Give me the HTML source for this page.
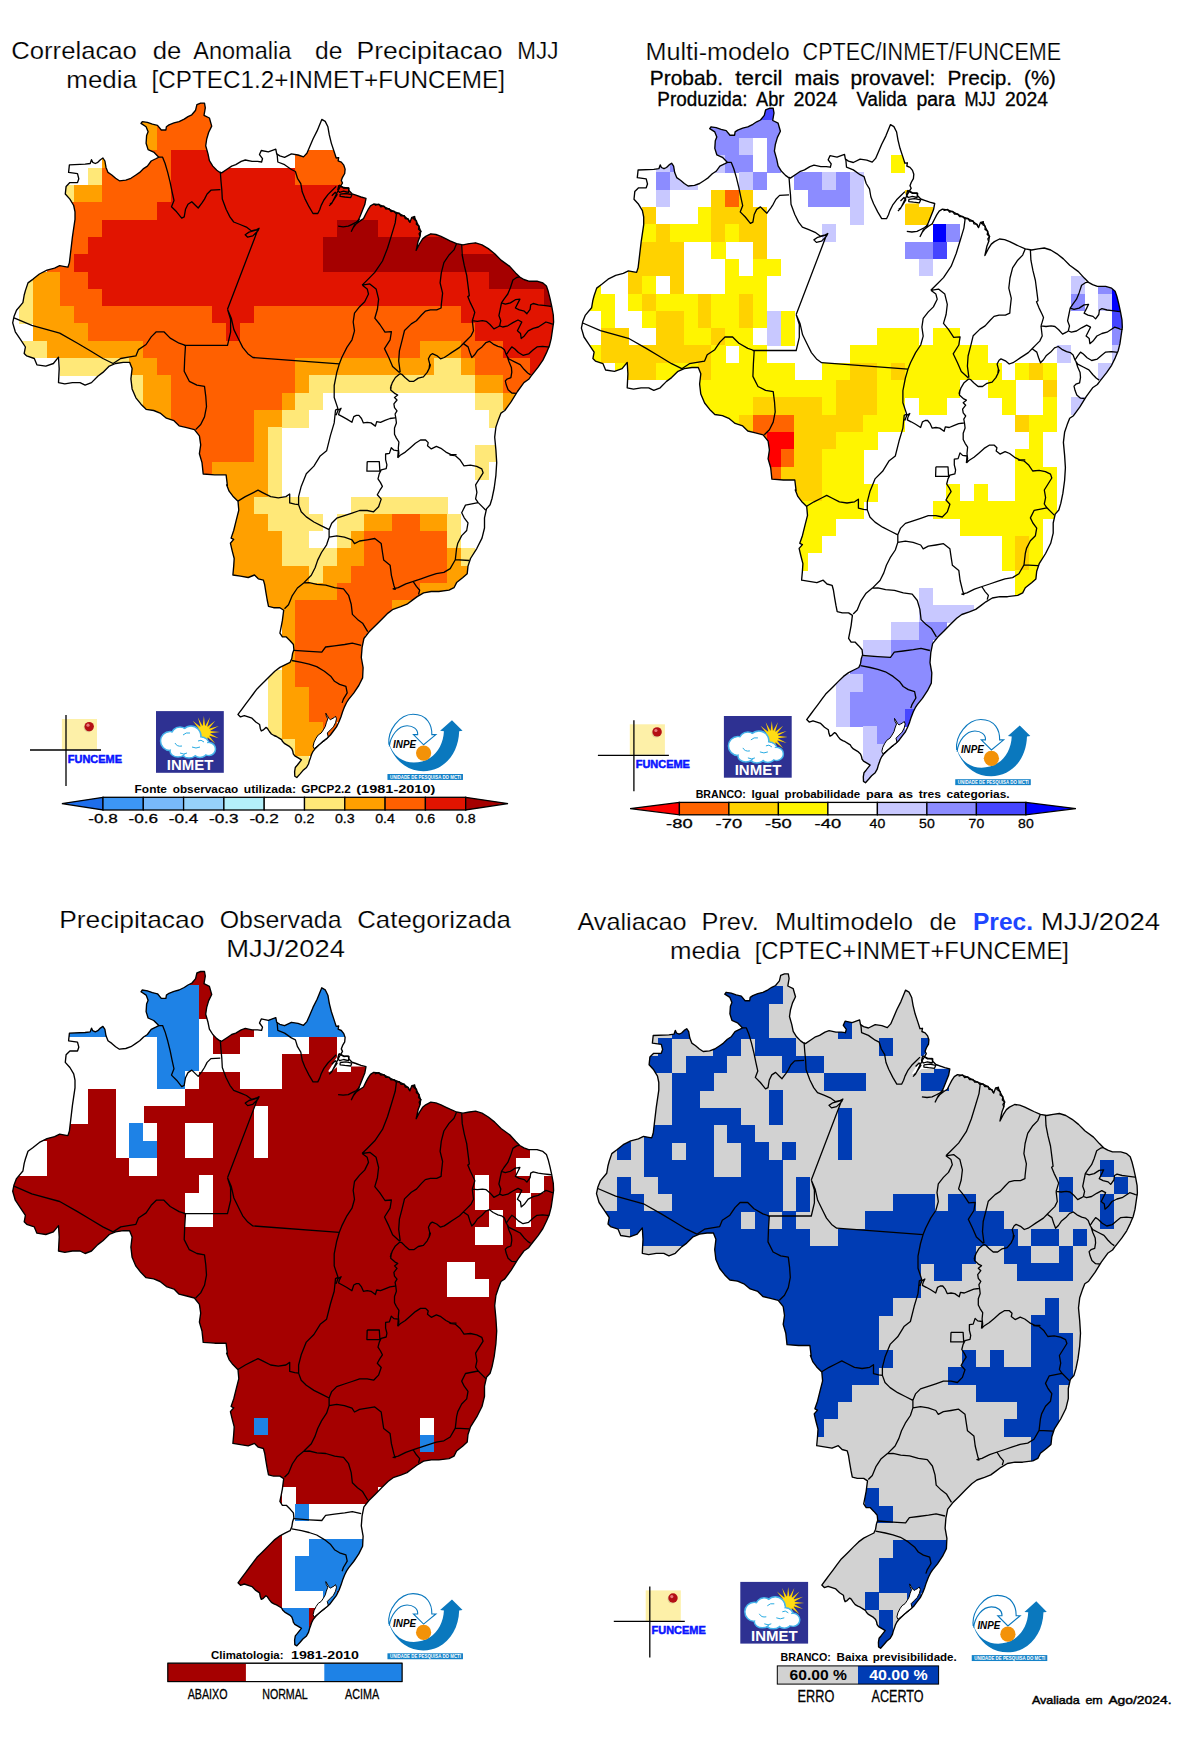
<!DOCTYPE html>
<html lang="pt"><head><meta charset="utf-8"><title>Previsao MJJ 2024</title>
<style>html,body{margin:0;padding:0;background:#fff}svg{display:block}text{font-family:"Liberation Sans",sans-serif;fill:#000}.b{font-weight:bold}.m{stroke:#000;stroke-width:.3px}.t{stroke:#fff;stroke-width:.2px}.u{stroke:#000;stroke-width:.3px}.m2{stroke:#000;stroke-width:.45px}</style></head><body>
<svg width="1181" height="1748" viewBox="0 0 1181 1748">
<rect width="1181" height="1748" fill="#fff"/>
<defs>
<path id="bo" d="M196.9 104.6L200.7 103.1L204.5 103.1L205.3 107.8L204 115.3L209.4 118L211.7 126.1L208.7 132.2L206.7 139L205.7 145.8L208 153.9L209.4 160.7L212.8 166.1L216.8 170.2L219.6 172.2L221.6 172.9L227.7 168.8L231.7 166.1L235.8 164.7L241.2 161.4L245.3 160L252.1 161.4L257.5 161.4L261.6 162L262.5 158.7L259.5 154.6L261.3 150.5L268.3 151.9L275.8 149.2L276.7 153.9L279.8 155.9L284.6 157.3L291.4 153.9L298.1 155L303.5 156.9L306.9 153.2L309.6 147.1L313 139L317.1 130.9L321.8 119.4L325.2 121.4L327.9 126.8L329.3 134.9L331.3 143.1L334 151.2L336.2 158L338.7 157.6L338.1 160.8L341.3 162.1L343.8 165.2L345.1 169.1L344.7 173.5L342.5 177.3L341.3 180.5L342.5 183L340.6 186.2L343.8 188.1L348.3 187.8L348.9 190.6L352.1 193.8L355.9 195.1L361 197L366 198.3L364.8 204.6L362.2 211L359.7 217.3L357.2 222.4L353.3 227.5L351.4 231.3L354.6 224.9L359.7 221.1L363.5 218.6L366 213.5L368 209.7L370.5 205.9L373.7 204L378.7 204.6L383.8 206.5L388.9 209.1L394 211.6L399.1 213.5L404.1 216L408 219.2L409.9 222.4L411.8 217.3L414.3 216.7L416.2 221.1L418.8 226.2L420.7 231.3L420 236.4L418.1 241.4L416.2 250.3L419.4 244L422.6 238.9L425.7 236.4L430.8 233.8L435.9 234.5L441 236.4L446.1 238.9L450 240.8L456.6 243.6L462.9 244.8L469.3 243.6L475.6 242.8L482 244.8L488.3 248.6L494.7 253.7L501 260.1L509.7 266.4L515.6 272.9L519.8 277.1L523.9 279.5L528.7 281.2L537 281.2L542.9 283L546.4 286L548.2 291.3L550 298.4L551.8 306.7L553.3 315L553.6 322.1L552.4 330.4L551.2 338.7L549.4 345.8L546.4 352.9L542.9 360.1L538.1 367.2L533.4 373.1L531 376.1L528.7 379.3L523.9 382.6L517.5 391.5L511.2 401.7L504.8 410.5L501 413.1L498.5 419.4L495.9 427.1L494.7 437.2L495.9 449.9L496.7 462.6L495.9 475.3L494.2 488L492.1 498.2L490.1 504.8L486.5 508.9L484.5 517.8L484.5 528L482 538.1L476.9 548.3L470.5 558.5L468 566.1L467.2 573.7L462.9 577.5L456.6 582.6L454 587.7L449 590.2L438.8 591.5L431.2 591.5L423.6 592.8L417.2 596.6L412.1 600.4L407 604.2L400.7 606.7L393.1 609.3L388 613.1L381.6 619.4L375.3 625.8L368.9 632.1L363.9 638.5L362.1 647.4L361.3 657.5L363.1 667.7L362.6 677.9L358.8 685.5L353.7 693.1L348.6 699.4L346.6 702.5L344.6 706.6L342.6 711.7L341 716.7L339 721.8L336.5 726.9L333.4 731L330.4 735L327.3 738.1L323.3 741.1L319.2 744.7L315.6 748.2L313.1 751.3L311.6 754.3L310.6 757.4L309.5 760.4L308.5 764L306.5 767.5L302.9 770.6L299.9 774.1L296.8 777.5L294.8 776.2L294.6 771.6L295.3 767.5L297.4 765L299.4 762.5L301.4 759.9L299.9 758.9L297.4 757.4L294.8 755.9L293.3 753.8L292.8 751.3L291.8 748.7L289.7 746.7L287.2 745.2L284.7 743.7L282.6 741.6L281.6 739.6L279.1 738.1L276.5 736.5L274 735.5L271.4 734L269.4 731.5L267.4 728.4L265.9 727.4L263.3 729.9L261.3 731L260.3 728.4L259.6 724.5L255.8 722L252 718.2L248.2 716.9L244.3 715.6L240.5 716.9L238 714.4L241.8 709.3L245.6 704.2L249.4 699.1L253.2 694L257 688.9L260.9 685.1L264.7 681.3L269.7 676.2L274.8 671.2L279.9 667.4L285 664.8L290.1 662.3L291.8 658.5L292.6 653.4L293.9 649.6L293.4 644.5L290.1 640.7L286.3 636.9L282.4 636.9L279.9 633.1L281.2 626.7L282.4 620.4L283.7 610.2L279.9 607.7L273.6 607.7L268.5 606.4L267.2 600L265.9 592.4L264.7 584.8L263.4 580.1L258.3 578.8L254.5 575L248.2 577.5L240.5 576.2L232.9 575L233.7 566.1L234.2 558.5L232.2 550.8L230.4 543.2L233.7 539.4L231.1 538.1L233.7 530.5L236.2 520.4L238.8 510.2L238 501.3L232.9 496.2L229.1 491.2L226.6 484.8L227.4 485.5L226.1 474.8L214.7 474.8L203.2 474L202 462.6L199.4 453.7L200.7 444.8L199.4 435.9L194.4 429.6L186.7 427.6L179.1 425.8L174 420.7L166.4 418.2L160.1 413.1L153.7 410.5L146.1 409.3L141 404.2L135.9 397.8L132.1 388.9L130.9 378.8L132.1 368.6L129.6 362.3L123.2 362.3L115.6 363.5L109.3 366.1L102.9 372.4L97.8 376.2L91.5 382.6L85.1 385.1L80 382.6L72.4 382.6L64.8 383.9L58.5 382.6L59.2 368.6L58.5 357.2L53.4 363.5L45.8 366.1L36.9 364.8L34.3 358.5L26.7 355.9L24.2 353.4L25.4 347L20.4 339.4L15.3 331.8L12.7 322.9L14 316.6L16.5 310.2L22.9 302.6L24.2 295L25.4 290.6L28 282.9L33.1 279.1L39.4 274L47 270.2L54.6 268.2L59.7 265.7L63.5 266.4L67.9 267.2L69.4 262.6L72.4 237.2L75 219.4L75 211.8L73.7 205.5L69.9 199.1L65.3 194L66.1 186.4L69.9 182.6L77.5 182.6L78.8 178.8L77.5 173.7L68.6 172.4L69.4 164.8L85.1 164.1L90.2 163.5L91.5 159.7L92.7 162.3L95.3 163.5L97.8 162.3L100.4 159.7L102.9 158L104.9 161L106 167.4L108 172.4L111.8 175L115.6 178.3L119.4 180.8L125.8 180.1L130.9 178.3L135.9 175L139.7 172.4L143.6 168.6L147.4 166.1L151.2 161L156.3 158.5L158.8 157.2L153.7 152.1L148.1 149.6L146.1 143.2L146.6 135.6L148.1 131.8L146.1 126.7L141 123.4L142.3 121.6L147.4 122.4L152.4 124.2L157.5 125.4L161.3 130L165.9 130L166.4 126.7L169 124.9L174 122.9L179.1 121.6L184.2 119.1L188 116.6L191.8 114.8L195.6 110.2Z"/>
<path id="bs" d="M158.8 157.2L162.6 157.2L165.1 163.5L167.7 172.4L170.2 182.6L172 191.5L174 200.4L171.5 206.7L176.6 211.8L181.7 218.2L184.2 216.9L185.5 209.3L188 204.2L191.8 201.7L195.6 205.5L198.2 208L202 202.9L204.5 199.1L207.1 194L210.9 190.2L220.3 189.7 M220.3 171.7L221 181.3L221.8 189.7L222.3 199.1L226.1 209.3L229.9 216.9L233.7 222L240.1 224.5L246.4 227.1L251.5 230.9L256.6 229.6L259.1 228.3L257.9 230.9L252.8 235.9L247.7 237.2L245.2 234.7L249 232.1L257.9 229.6L227.5 309.3 M227.5 309.3L230.6 319.4L230.6 332.1L227.5 345.3L184.3 345.3L185.5 345.3L179.1 343.2L170.2 338.1L163.9 331.8L156.3 331.8L151.2 336.9L146.1 344.5L138.5 349.6L135.9 355.9L128.3 357.2L120.7 358.5L113.1 363.5 M113.1 363.5L102.9 358.5L90.2 350.8L77.5 343.2L59.7 333.1L31.8 325.4L14 317.8 M227.5 309.3L231.3 318.2L233.9 329.6L238.9 339.8L242.7 347.4L247.8 353.7L252.9 357.5L339.3 363.9 M185.5 345.3L184.7 358.5L184.2 371.2L189.3 381.3L196.9 385.1L204.5 386.4L205.8 396.6L206.5 406.7L204.5 416.9L200.7 424.5L195.6 429.6 M277.1 153.9L277.8 162L284.6 164.7L291.4 169.5L295.4 171.5L297.5 178.3L300.8 183.7L302.2 191.8L304.9 198.6L309 206.7L313 213.5L317.8 213.5L319.8 209.5L321.2 205.4L323.9 200L327.9 194.6L332 190.5L336.2 186.4 M362.1 285.1L367.2 288.9L368.5 294L364.7 301.7L359.6 306.7L354.5 313.1L353.2 322L354.5 330.9L352 339.8L346.9 347.4L341.8 357.5L339.3 363.9L336.7 372.8L334.2 385.5L334.2 397.5L338 408.9L335.5 410.2L334.2 422.9L330.4 435.6L326.6 450.8L320.2 455.9L313.9 466.1L306.3 473.7L301.2 486.4L298.6 496.6L298.6 504.7 M396.4 214L395.2 222.9L391.4 235.6L387.5 248.3L382.5 261L374.8 272.4L367.2 280.1L362.1 285.1 M362.1 285.1L369.8 283.9L376.1 288.9L378.6 299.1L377.4 309.3L374.8 318.2L379.9 324.5L385 332.1L391.4 331.6L390.1 339.8L384.5 348.6L388.8 357.5L392.6 366.4L399.7 372.8 M456.6 243.6L454 249.9L449 255L443.9 262.6L441.3 272.8L440.1 282.9L442.6 293.1L441.3 304.8L441.1 308L436.7 309.9L430.4 309.9L425.3 311.2L421.5 315L416.4 320.7L411.3 323.9L404.5 330.5L402 340.7L399.4 350.8L398.7 361L400.2 372.4 M461.7 244.8L462.2 255L464.2 265.2L466.7 275.3L468 285.5L469.3 295.6L467.8 296.6L470.4 302.9L473.5 309.3L474.8 312.4L473.5 316.9L472.3 320.7 M472.3 320.7L472.9 325.8L473.5 330.8L471 335.9L467.2 339.7L463.4 343.5L459.6 347.4L455.8 349.9L451.9 352.4L448.1 355L444.3 357.5L440.5 358.8L436.7 355.6L432.3 353.7L430.4 355L428.4 358.8L429.7 363.9L429.1 368.9L430.4 364.8L429.7 367.3L427.2 372.4L423.4 376.9L418.3 378.1L413.8 381.3L409.4 381.3L405 377.5L401.8 374.3L399.9 373.7 M399.9 373.7L395.4 377.5L392.3 382.6L390.4 388.3L391.3 384.8L390.7 389.9L395.1 393.7L397.7 395L394.5 397.5L397 400L393.9 403.9L394.5 407.7L397 410.8L395.1 414L395.8 417.8L396.4 422.9L394.5 428L394.5 434.3L396.4 438.1L398.9 442L398.3 448.3L398.9 453.4L397.7 457.8 M336.1 415.3L338 410.2L341.1 408.3L339.2 412.1L338.6 414.6L342.4 416.6L346.9 419.1L351.9 422.3L353.8 416.6L356.4 415.3L358.9 415.3L361.5 418.5L363.4 422.9L367.2 422.3L371 422.9L375.4 426.1L376.7 421.6L380.5 422.3L385 420.4L390 418.5L395.1 417.8 M463.4 343.6L468.1 346.9L469.9 352.5L471.8 357.6L474.6 354.8L477.4 350.6L482 346.9L485.8 342.7L489.5 341.3L493.2 344.1L497.9 346.4L501.6 347.4L504.4 349.7L506.3 354.8 M506.3 354.8L509 350.6L511.8 346.9L514.6 348.8L518.4 352.5L523 355.3L528.6 353.9L533.3 349.7L537 346.9L542.6 346.4L547.2 346.9L549.3 347.1 M506.3 354.8L509 359L514.6 361.8L520.2 364.6L524 369.3L527.7 373L530.5 374.9 M507.2 356.2L509 361.8L511.4 367.4L511.8 372.1L510.9 377.6L507.2 379L505.3 380.9L506.3 385.1L508.1 389.8L511.8 393L516 393.3 M472.3 320.7L477.3 321.3L482.4 320.7L486.2 321.3L490 324.5L493.9 328.9L497.7 327L499.6 325.8 M499.6 325.8L500.8 320.7L498.9 315.6L500.2 309.3L501.5 302.9L504 299.1L507.8 294L510.4 287.7L512.9 280L516.7 277.5L519.3 276.9 M501.5 302.9L505.3 304.2L510.4 302.9L515.4 299.7L519.9 299.1L518 302.9L515.4 308L519.3 309.9L524.3 311.2L526.9 313.7L530.1 309.3L530.7 304.8L533.2 303.5L538.3 304.8L543.4 305.4L549.1 306.1L551.3 306.5 M499.6 325.8L502.7 327L507.8 325.8L512.9 322.6L518 320L521.8 322L519.3 327L517.4 330.8L520.5 333.4L521.2 338.5L524.3 335.9L528.2 330.8L533.2 328.3L538.3 327L542.1 324.5L545.9 322L549.7 323.2L551.6 323.9L553.8 324.2 M237.9 501.1L245.3 496.6L252.9 492.8L258 490.2L263.1 492.8L270.7 496.6L278.3 497.8L285.9 496.6L289.7 494L289.7 502.9L294.8 504.2L298.6 504.7 M298.6 504.7L301.2 511.8L306.3 516.9L313.9 522L321.5 525.8L329.1 529.6 M329.1 529.6L331.7 523.2L336.7 518.2L344.4 515.6L352 513.1L359.6 510.5L367.2 510.5L373.6 511.8L378.6 506.7L381.2 499.1L377.3 494.8L379.9 490.2L382.4 486.4L380.5 482.6L378 478.8L379.3 473.7L381.2 469.9L386.2 468.6L386.9 464.8L385.6 459.7L385.6 454L389.4 453.4L391.3 447.7L393.9 450.2L398.3 450.8L397.7 457.8 M367.2 461.6L379.3 461.6L379.9 471.2L366.9 471.2L367.2 461.6 M397.7 457.8L400.2 455.3L405.3 452.1L410.4 447.7L415.4 443.2L420.5 440L425.6 440L428.2 442.6L427.5 445.8L431.3 448.9L436.4 446.4L440.9 448.3L445.9 452.1L451 454.7L456.1 454.7L450 455L455.1 455.6L460.2 460.1L464 465.8L470.4 465.1L476.7 466.4L481.8 468.9L483.1 472.8L475.6 484.8L476.9 492.4L475.6 498.8L478.2 502.6L485.8 510.2 M478.2 502.6L465.5 505.1L461.7 512.7L464.2 517.8L468 522.9L466.7 530.5L461.7 535.6L457.8 543.2L456.6 548.3L455.3 559.7L469.3 560.5 M455.3 559.7L450.2 568.6L443.9 572.4L436.3 573.7L428.6 576.2L421 578.8L413.4 581.3L405.8 583.9L398.2 587.7L393.1 588.9L395.2 589.3L393.9 585.5L391.4 575.3L390.1 565.2L383.7 560.1L382.5 552.5L381.2 543.6L374.8 538.5L367.2 539.8L359.6 541L354.5 543.6L352 539.8L344.4 537.2L336.7 535.9L329.1 537.2L329.1 529.6 M413.4 581.8L416.4 586.4L419.7 590.2L418.5 594.5 M329.1 537.2L326.6 544.8L321.5 552.5L317.7 560.1L315.1 567.7L311.3 575.3L303.7 582.9L297.4 588L292.3 595.6L288.5 604.8L284.5 608.8 M303.7 582.9L309.2 582.6L316.9 584.4L325.8 585.1L334.6 587.7L343.5 588.9L348.6 595.3L351.2 604.2L352.4 614.4L357.5 619.4L362.6 623.2L367.7 631.6 M293.9 650.3L309.1 651.4L321.8 652.1L325.6 647L334.5 645.8L344.7 644.5L352.3 643.2L361.2 645.3 M291.8 660.5L301.5 662.3L309.1 664.1L316.7 666.6L324.4 671.2L330.7 676.2L334.5 681.3L339.6 684.4L345.9 686.4L347.2 692.8L343.4 699.1L342.1 702.9 M338.1 226.2L343.2 226.8L348.3 226.2L352.1 224.3L355.9 222.4L359.7 219.2 M329.2 205.9L331.8 203.3L334.3 198.3L336.8 193.2L339.4 188.1L340.6 186.2 M338.9 185.2L343.6 187.5L349 188.1L348.4 192.3L343.6 191.1L339.5 192.3L337.7 189.9L338.9 185.2 M340.1 194.1L346 193.5L351.9 194.7L350.7 197.6L344.8 197L340.1 196.4L340.1 194.1 M331.8 195.8L335.3 192.3L337.1 194.7L334.1 199.4L331.8 202.9L330 204.1 M374.8 205.4L378.9 204.2L380.8 206.8L384 206.2L385.8 209L389.1 208.7L390.9 211.5L394.1 211.2L396.1 213.8L399.2 213.2L401 215.9L404.4 215.7L405.2 218.6L408.3 219L409.5 221.8 M412.5 218.8L414.7 216.5L414.1 219.4L416.6 221L416.3 224.2L419.1 226.1L418.5 229.2L421 231.3L419.1 233.7L420 236.4"/>
<path id="lg" d="M325.8 713.2L326.3 716.2L327.8 718.8L326.3 722.8L325.3 726.4L323.3 729.9L321.2 733L318.2 735L316.1 738.1L314.1 742.1L313.1 746.2L314.1 748.7L317.2 746.2L321.2 743.2L325.3 740.1L328.3 737.1L327.3 733L330.4 729.9L333.4 726.9L335.5 722.8L336.5 718.8L335.5 716.2L333.9 717.8L331.9 718.8L330.4 719.8L328.9 718.3L327.3 715.7Z"/>
<path id="wt" d="M341.8 182.2L348.4 187.5L350.1 192.3L353.1 194.9L365.5 198L337.7 198.2L334.1 201.2L330.6 204.1L328.2 202.9L331.8 197L335.3 191.1L338.9 185.8Z"/>
<clipPath id="cb"><use href="#bo"/></clipPath>
</defs>
<g transform="translate(0 0)">
<use href="#bo" fill="#ffffff"/>
<g clip-path="url(#cb)" shape-rendering="crispEdges"><g transform="translate(0 0)">
<rect x="5.10" y="98.40" width="566.92" height="17.61" fill="#ff6000"/>
<rect x="115.66" y="115.71" width="41.76" height="17.61" fill="#ffa000"/>
<rect x="157.12" y="115.71" width="69.40" height="17.61" fill="#ff6000"/>
<rect x="115.66" y="133.02" width="41.76" height="17.61" fill="#ffa000"/>
<rect x="157.12" y="133.02" width="69.40" height="17.61" fill="#ff6000"/>
<rect x="101.84" y="150.33" width="14.12" height="17.61" fill="#ffa000"/>
<rect x="115.66" y="150.33" width="55.58" height="17.61" fill="#ff6000"/>
<rect x="170.94" y="150.33" width="55.58" height="17.61" fill="#e11400"/>
<rect x="295.32" y="150.33" width="55.58" height="17.61" fill="#ff6000"/>
<rect x="88.02" y="167.64" width="14.12" height="17.61" fill="#ffe878"/>
<rect x="101.84" y="167.64" width="69.40" height="17.61" fill="#ff6000"/>
<rect x="170.94" y="167.64" width="124.68" height="17.61" fill="#e11400"/>
<rect x="295.32" y="167.64" width="55.58" height="17.61" fill="#ff6000"/>
<rect x="60.38" y="184.95" width="14.12" height="17.61" fill="#ffe878"/>
<rect x="74.20" y="184.95" width="27.94" height="17.61" fill="#ffa000"/>
<rect x="101.84" y="184.95" width="69.40" height="17.61" fill="#ff6000"/>
<rect x="170.94" y="184.95" width="249.06" height="17.61" fill="#e11400"/>
<rect x="60.38" y="202.26" width="97.04" height="17.61" fill="#ff6000"/>
<rect x="157.12" y="202.26" width="262.88" height="17.61" fill="#e11400"/>
<rect x="60.38" y="219.57" width="41.76" height="17.61" fill="#ff6000"/>
<rect x="101.84" y="219.57" width="235.24" height="17.61" fill="#e11400"/>
<rect x="336.78" y="219.57" width="41.76" height="17.61" fill="#a50000"/>
<rect x="378.24" y="219.57" width="69.40" height="17.61" fill="#e11400"/>
<rect x="60.38" y="236.88" width="27.94" height="17.61" fill="#ff6000"/>
<rect x="88.02" y="236.88" width="235.24" height="17.61" fill="#e11400"/>
<rect x="322.96" y="236.88" width="138.50" height="17.61" fill="#a50000"/>
<rect x="461.16" y="236.88" width="41.76" height="17.61" fill="#e11400"/>
<rect x="46.56" y="254.19" width="27.94" height="17.61" fill="#ff6000"/>
<rect x="74.20" y="254.19" width="249.06" height="17.61" fill="#e11400"/>
<rect x="322.96" y="254.19" width="193.78" height="17.61" fill="#a50000"/>
<rect x="18.92" y="271.50" width="14.12" height="17.61" fill="#ffe878"/>
<rect x="32.74" y="271.50" width="27.94" height="17.61" fill="#ffa000"/>
<rect x="60.38" y="271.50" width="27.94" height="17.61" fill="#ff6000"/>
<rect x="88.02" y="271.50" width="401.08" height="17.61" fill="#e11400"/>
<rect x="488.80" y="271.50" width="69.40" height="17.61" fill="#a50000"/>
<rect x="18.92" y="288.81" width="14.12" height="17.61" fill="#ffe878"/>
<rect x="32.74" y="288.81" width="27.94" height="17.61" fill="#ffa000"/>
<rect x="60.38" y="288.81" width="41.76" height="17.61" fill="#ff6000"/>
<rect x="101.84" y="288.81" width="442.54" height="17.61" fill="#e11400"/>
<rect x="544.08" y="288.81" width="14.12" height="17.61" fill="#a50000"/>
<rect x="18.92" y="306.12" width="14.12" height="17.61" fill="#ffe878"/>
<rect x="32.74" y="306.12" width="41.76" height="17.61" fill="#ffa000"/>
<rect x="74.20" y="306.12" width="138.50" height="17.61" fill="#ff6000"/>
<rect x="212.40" y="306.12" width="41.76" height="17.61" fill="#e11400"/>
<rect x="253.86" y="306.12" width="207.60" height="17.61" fill="#ff6000"/>
<rect x="461.16" y="306.12" width="97.04" height="17.61" fill="#e11400"/>
<rect x="32.74" y="323.43" width="55.58" height="17.61" fill="#ffa000"/>
<rect x="88.02" y="323.43" width="138.50" height="17.61" fill="#ff6000"/>
<rect x="226.22" y="323.43" width="14.12" height="17.61" fill="#e11400"/>
<rect x="240.04" y="323.43" width="235.24" height="17.61" fill="#ff6000"/>
<rect x="474.98" y="323.43" width="83.22" height="17.61" fill="#e11400"/>
<rect x="18.92" y="340.74" width="27.94" height="17.61" fill="#ffe878"/>
<rect x="46.56" y="340.74" width="97.04" height="17.61" fill="#ffa000"/>
<rect x="143.30" y="340.74" width="276.70" height="17.61" fill="#ff6000"/>
<rect x="419.70" y="340.74" width="41.76" height="17.61" fill="#ffa000"/>
<rect x="461.16" y="340.74" width="41.76" height="17.61" fill="#ff6000"/>
<rect x="502.62" y="340.74" width="55.58" height="17.61" fill="#e11400"/>
<rect x="60.38" y="358.05" width="69.40" height="17.61" fill="#ffe878"/>
<rect x="129.48" y="358.05" width="27.94" height="17.61" fill="#ffa000"/>
<rect x="157.12" y="358.05" width="138.50" height="17.61" fill="#ff6000"/>
<rect x="295.32" y="358.05" width="138.50" height="17.61" fill="#ffa000"/>
<rect x="433.52" y="358.05" width="27.94" height="17.61" fill="#ffe878"/>
<rect x="461.16" y="358.05" width="14.12" height="17.61" fill="#ffa000"/>
<rect x="474.98" y="358.05" width="55.58" height="17.61" fill="#ff6000"/>
<rect x="530.26" y="358.05" width="27.94" height="17.61" fill="#e11400"/>
<rect x="129.48" y="375.36" width="14.12" height="17.61" fill="#ffe878"/>
<rect x="143.30" y="375.36" width="27.94" height="17.61" fill="#ffa000"/>
<rect x="170.94" y="375.36" width="124.68" height="17.61" fill="#ff6000"/>
<rect x="295.32" y="375.36" width="14.12" height="17.61" fill="#ffa000"/>
<rect x="309.14" y="375.36" width="166.14" height="17.61" fill="#ffe878"/>
<rect x="474.98" y="375.36" width="27.94" height="17.61" fill="#ffa000"/>
<rect x="502.62" y="375.36" width="27.94" height="17.61" fill="#ff6000"/>
<rect x="129.48" y="392.67" width="14.12" height="17.61" fill="#ffe878"/>
<rect x="143.30" y="392.67" width="27.94" height="17.61" fill="#ffa000"/>
<rect x="170.94" y="392.67" width="110.86" height="17.61" fill="#ff6000"/>
<rect x="281.50" y="392.67" width="14.12" height="17.61" fill="#ffa000"/>
<rect x="295.32" y="392.67" width="27.94" height="17.61" fill="#ffe878"/>
<rect x="474.98" y="392.67" width="27.94" height="17.61" fill="#ffe878"/>
<rect x="502.62" y="392.67" width="14.12" height="17.61" fill="#ffa000"/>
<rect x="143.30" y="409.98" width="27.94" height="17.61" fill="#ffa000"/>
<rect x="170.94" y="409.98" width="83.22" height="17.61" fill="#ff6000"/>
<rect x="253.86" y="409.98" width="27.94" height="17.61" fill="#ffa000"/>
<rect x="281.50" y="409.98" width="27.94" height="17.61" fill="#ffe878"/>
<rect x="488.80" y="409.98" width="14.12" height="17.61" fill="#ffe878"/>
<rect x="170.94" y="427.29" width="83.22" height="17.61" fill="#ff6000"/>
<rect x="253.86" y="427.29" width="14.12" height="17.61" fill="#ffa000"/>
<rect x="267.68" y="427.29" width="14.12" height="17.61" fill="#ffe878"/>
<rect x="198.58" y="444.60" width="55.58" height="17.61" fill="#ff6000"/>
<rect x="253.86" y="444.60" width="14.12" height="17.61" fill="#ffa000"/>
<rect x="267.68" y="444.60" width="14.12" height="17.61" fill="#ffe878"/>
<rect x="474.98" y="444.60" width="27.94" height="17.61" fill="#ffe878"/>
<rect x="198.58" y="461.91" width="14.12" height="17.61" fill="#ff6000"/>
<rect x="212.40" y="461.91" width="55.58" height="17.61" fill="#ffa000"/>
<rect x="267.68" y="461.91" width="14.12" height="17.61" fill="#ffe878"/>
<rect x="474.98" y="461.91" width="14.12" height="17.61" fill="#ffe878"/>
<rect x="226.22" y="479.22" width="41.76" height="17.61" fill="#ffa000"/>
<rect x="267.68" y="479.22" width="14.12" height="17.61" fill="#ffe878"/>
<rect x="226.22" y="496.53" width="27.94" height="17.61" fill="#ffa000"/>
<rect x="253.86" y="496.53" width="55.58" height="17.61" fill="#ffe878"/>
<rect x="350.60" y="496.53" width="97.04" height="17.61" fill="#ffe878"/>
<rect x="226.22" y="513.84" width="41.76" height="17.61" fill="#ffa000"/>
<rect x="267.68" y="513.84" width="55.58" height="17.61" fill="#ffe878"/>
<rect x="336.78" y="513.84" width="27.94" height="17.61" fill="#ffe878"/>
<rect x="364.42" y="513.84" width="27.94" height="17.61" fill="#ffa000"/>
<rect x="392.06" y="513.84" width="27.94" height="17.61" fill="#ff6000"/>
<rect x="419.70" y="513.84" width="27.94" height="17.61" fill="#ffa000"/>
<rect x="447.34" y="513.84" width="14.12" height="17.61" fill="#ffe878"/>
<rect x="226.22" y="531.15" width="55.58" height="17.61" fill="#ffa000"/>
<rect x="281.50" y="531.15" width="27.94" height="17.61" fill="#ffe878"/>
<rect x="336.78" y="531.15" width="14.12" height="17.61" fill="#ffe878"/>
<rect x="350.60" y="531.15" width="14.12" height="17.61" fill="#ffa000"/>
<rect x="364.42" y="531.15" width="83.22" height="17.61" fill="#ff6000"/>
<rect x="447.34" y="531.15" width="14.12" height="17.61" fill="#ffe878"/>
<rect x="198.58" y="548.46" width="83.22" height="17.61" fill="#ffa000"/>
<rect x="281.50" y="548.46" width="55.58" height="17.61" fill="#ffe878"/>
<rect x="336.78" y="548.46" width="27.94" height="17.61" fill="#ffa000"/>
<rect x="364.42" y="548.46" width="83.22" height="17.61" fill="#ff6000"/>
<rect x="447.34" y="548.46" width="14.12" height="17.61" fill="#ffa000"/>
<rect x="461.16" y="548.46" width="14.12" height="17.61" fill="#ffe878"/>
<rect x="198.58" y="565.77" width="110.86" height="17.61" fill="#ffa000"/>
<rect x="309.14" y="565.77" width="14.12" height="17.61" fill="#ffe878"/>
<rect x="322.96" y="565.77" width="27.94" height="17.61" fill="#ffa000"/>
<rect x="350.60" y="565.77" width="97.04" height="17.61" fill="#ff6000"/>
<rect x="447.34" y="565.77" width="27.94" height="17.61" fill="#ffa000"/>
<rect x="198.58" y="583.08" width="138.50" height="17.61" fill="#ffa000"/>
<rect x="336.78" y="583.08" width="83.22" height="17.61" fill="#ff6000"/>
<rect x="419.70" y="583.08" width="41.76" height="17.61" fill="#ffa000"/>
<rect x="267.68" y="600.39" width="27.94" height="17.61" fill="#ffa000"/>
<rect x="295.32" y="600.39" width="97.04" height="17.61" fill="#ff6000"/>
<rect x="392.06" y="600.39" width="27.94" height="17.61" fill="#ffa000"/>
<rect x="281.50" y="617.70" width="14.12" height="17.61" fill="#ffa000"/>
<rect x="295.32" y="617.70" width="97.04" height="17.61" fill="#ff6000"/>
<rect x="281.50" y="635.01" width="14.12" height="17.61" fill="#ffa000"/>
<rect x="295.32" y="635.01" width="69.40" height="17.61" fill="#ff6000"/>
<rect x="281.50" y="652.32" width="14.12" height="17.61" fill="#ffa000"/>
<rect x="295.32" y="652.32" width="69.40" height="17.61" fill="#ff6000"/>
<rect x="267.68" y="669.63" width="14.12" height="17.61" fill="#ffe878"/>
<rect x="281.50" y="669.63" width="14.12" height="17.61" fill="#ffa000"/>
<rect x="295.32" y="669.63" width="69.40" height="17.61" fill="#ff6000"/>
<rect x="267.68" y="686.94" width="14.12" height="17.61" fill="#ffe878"/>
<rect x="281.50" y="686.94" width="27.94" height="17.61" fill="#ffa000"/>
<rect x="309.14" y="686.94" width="55.58" height="17.61" fill="#ff6000"/>
<rect x="267.68" y="704.25" width="14.12" height="17.61" fill="#ffe878"/>
<rect x="281.50" y="704.25" width="27.94" height="17.61" fill="#ffa000"/>
<rect x="309.14" y="704.25" width="41.76" height="17.61" fill="#ff6000"/>
<rect x="267.68" y="721.56" width="14.12" height="17.61" fill="#ffe878"/>
<rect x="281.50" y="721.56" width="41.76" height="17.61" fill="#ffa000"/>
<rect x="322.96" y="721.56" width="14.12" height="17.61" fill="#ff6000"/>
<rect x="281.50" y="738.87" width="14.12" height="17.61" fill="#ffe878"/>
<rect x="295.32" y="738.87" width="27.94" height="17.61" fill="#ffa000"/>
<rect x="295.32" y="756.18" width="14.12" height="17.61" fill="#ffe878"/>
<rect x="295.32" y="773.49" width="14.12" height="17.61" fill="#ffe878"/>
</g></g>
<use href="#lg" fill="#fff" stroke="#000" stroke-width="1"/>
<use href="#bs" fill="none" stroke="#000" stroke-width="1.3" stroke-linejoin="round"/>
<use href="#bo" fill="none" stroke="#000" stroke-width="1.35" stroke-linejoin="round"/>
</g>
<g transform="translate(568.7 5.2)">
<use href="#bo" fill="#ffffff"/>
<g clip-path="url(#cb)" shape-rendering="crispEdges"><g transform="translate(-0.6 -0.5)">
<rect x="170.94" y="98.40" width="55.58" height="17.61" fill="#4646ff"/>
<rect x="115.66" y="115.71" width="110.86" height="17.61" fill="#8c8cff"/>
<rect x="129.48" y="133.02" width="41.76" height="17.61" fill="#8c8cff"/>
<rect x="170.94" y="133.02" width="14.12" height="17.61" fill="#c8c8ff"/>
<rect x="198.58" y="133.02" width="27.94" height="17.61" fill="#8c8cff"/>
<rect x="88.02" y="150.33" width="14.12" height="17.61" fill="#c8c8ff"/>
<rect x="101.84" y="150.33" width="14.12" height="17.61" fill="#8c8cff"/>
<rect x="143.30" y="150.33" width="14.12" height="17.61" fill="#c8c8ff"/>
<rect x="157.12" y="150.33" width="27.94" height="17.61" fill="#8c8cff"/>
<rect x="198.58" y="150.33" width="14.12" height="17.61" fill="#8c8cff"/>
<rect x="322.96" y="150.33" width="14.12" height="17.61" fill="#fff500"/>
<rect x="88.02" y="167.64" width="14.12" height="17.61" fill="#8c8cff"/>
<rect x="101.84" y="167.64" width="27.94" height="17.61" fill="#c8c8ff"/>
<rect x="170.94" y="167.64" width="14.12" height="17.61" fill="#c8c8ff"/>
<rect x="184.76" y="167.64" width="14.12" height="17.61" fill="#8c8cff"/>
<rect x="226.22" y="167.64" width="27.94" height="17.61" fill="#8c8cff"/>
<rect x="253.86" y="167.64" width="14.12" height="17.61" fill="#c8c8ff"/>
<rect x="267.68" y="167.64" width="14.12" height="17.61" fill="#8c8cff"/>
<rect x="281.50" y="167.64" width="14.12" height="17.61" fill="#c8c8ff"/>
<rect x="88.02" y="184.95" width="14.12" height="17.61" fill="#c8c8ff"/>
<rect x="143.30" y="184.95" width="14.12" height="17.61" fill="#ffd200"/>
<rect x="157.12" y="184.95" width="14.12" height="17.61" fill="#ff6400"/>
<rect x="170.94" y="184.95" width="14.12" height="17.61" fill="#ffd200"/>
<rect x="240.04" y="184.95" width="41.76" height="17.61" fill="#8c8cff"/>
<rect x="281.50" y="184.95" width="14.12" height="17.61" fill="#c8c8ff"/>
<rect x="336.78" y="184.95" width="14.12" height="17.61" fill="#ffd200"/>
<rect x="74.20" y="202.26" width="14.12" height="17.61" fill="#ffd200"/>
<rect x="129.48" y="202.26" width="14.12" height="17.61" fill="#fff500"/>
<rect x="143.30" y="202.26" width="55.58" height="17.61" fill="#ffd200"/>
<rect x="281.50" y="202.26" width="14.12" height="17.61" fill="#c8c8ff"/>
<rect x="336.78" y="202.26" width="27.94" height="17.61" fill="#ffd200"/>
<rect x="74.20" y="219.57" width="14.12" height="17.61" fill="#fff500"/>
<rect x="88.02" y="219.57" width="14.12" height="17.61" fill="#ffd200"/>
<rect x="101.84" y="219.57" width="41.76" height="17.61" fill="#fff500"/>
<rect x="143.30" y="219.57" width="14.12" height="17.61" fill="#ffd200"/>
<rect x="157.12" y="219.57" width="14.12" height="17.61" fill="#fff500"/>
<rect x="170.94" y="219.57" width="27.94" height="17.61" fill="#ffd200"/>
<rect x="253.86" y="219.57" width="14.12" height="17.61" fill="#c8c8ff"/>
<rect x="364.42" y="219.57" width="14.12" height="17.61" fill="#0000ff"/>
<rect x="378.24" y="219.57" width="14.12" height="17.61" fill="#8c8cff"/>
<rect x="60.38" y="236.88" width="55.58" height="17.61" fill="#ffd200"/>
<rect x="143.30" y="236.88" width="14.12" height="17.61" fill="#fff500"/>
<rect x="184.76" y="236.88" width="14.12" height="17.61" fill="#ffd200"/>
<rect x="336.78" y="236.88" width="27.94" height="17.61" fill="#8c8cff"/>
<rect x="364.42" y="236.88" width="14.12" height="17.61" fill="#4646ff"/>
<rect x="60.38" y="254.19" width="55.58" height="17.61" fill="#ffd200"/>
<rect x="157.12" y="254.19" width="14.12" height="17.61" fill="#fff500"/>
<rect x="184.76" y="254.19" width="27.94" height="17.61" fill="#fff500"/>
<rect x="350.60" y="254.19" width="14.12" height="17.61" fill="#c8c8ff"/>
<rect x="18.92" y="271.50" width="14.12" height="17.61" fill="#fff500"/>
<rect x="60.38" y="271.50" width="14.12" height="17.61" fill="#ffd200"/>
<rect x="74.20" y="271.50" width="14.12" height="17.61" fill="#fff500"/>
<rect x="101.84" y="271.50" width="14.12" height="17.61" fill="#ffd200"/>
<rect x="157.12" y="271.50" width="41.76" height="17.61" fill="#fff500"/>
<rect x="502.62" y="271.50" width="14.12" height="17.61" fill="#c8c8ff"/>
<rect x="530.26" y="271.50" width="14.12" height="17.61" fill="#8c8cff"/>
<rect x="544.08" y="271.50" width="14.12" height="17.61" fill="#0000ff"/>
<rect x="18.92" y="288.81" width="27.94" height="17.61" fill="#fff500"/>
<rect x="60.38" y="288.81" width="14.12" height="17.61" fill="#fff500"/>
<rect x="74.20" y="288.81" width="14.12" height="17.61" fill="#ffd200"/>
<rect x="88.02" y="288.81" width="41.76" height="17.61" fill="#fff500"/>
<rect x="129.48" y="288.81" width="14.12" height="17.61" fill="#ffd200"/>
<rect x="143.30" y="288.81" width="27.94" height="17.61" fill="#fff500"/>
<rect x="170.94" y="288.81" width="14.12" height="17.61" fill="#ffd200"/>
<rect x="184.76" y="288.81" width="14.12" height="17.61" fill="#fff500"/>
<rect x="502.62" y="288.81" width="14.12" height="17.61" fill="#8c8cff"/>
<rect x="530.26" y="288.81" width="14.12" height="17.61" fill="#c8c8ff"/>
<rect x="544.08" y="288.81" width="14.12" height="17.61" fill="#0000ff"/>
<rect x="32.74" y="306.12" width="14.12" height="17.61" fill="#fff500"/>
<rect x="74.20" y="306.12" width="14.12" height="17.61" fill="#fff500"/>
<rect x="88.02" y="306.12" width="27.94" height="17.61" fill="#ffd200"/>
<rect x="115.66" y="306.12" width="14.12" height="17.61" fill="#fff500"/>
<rect x="129.48" y="306.12" width="14.12" height="17.61" fill="#ffd200"/>
<rect x="143.30" y="306.12" width="27.94" height="17.61" fill="#fff500"/>
<rect x="170.94" y="306.12" width="14.12" height="17.61" fill="#ffd200"/>
<rect x="184.76" y="306.12" width="14.12" height="17.61" fill="#fff500"/>
<rect x="198.58" y="306.12" width="14.12" height="17.61" fill="#c8c8ff"/>
<rect x="212.40" y="306.12" width="14.12" height="17.61" fill="#fff500"/>
<rect x="544.08" y="306.12" width="14.12" height="17.61" fill="#4646ff"/>
<rect x="32.74" y="323.43" width="27.94" height="17.61" fill="#ffd200"/>
<rect x="88.02" y="323.43" width="27.94" height="17.61" fill="#ffd200"/>
<rect x="115.66" y="323.43" width="27.94" height="17.61" fill="#fff500"/>
<rect x="143.30" y="323.43" width="14.12" height="17.61" fill="#ffd200"/>
<rect x="157.12" y="323.43" width="27.94" height="17.61" fill="#fff500"/>
<rect x="198.58" y="323.43" width="14.12" height="17.61" fill="#c8c8ff"/>
<rect x="212.40" y="323.43" width="14.12" height="17.61" fill="#fff500"/>
<rect x="309.14" y="323.43" width="41.76" height="17.61" fill="#fff500"/>
<rect x="364.42" y="323.43" width="27.94" height="17.61" fill="#fff500"/>
<rect x="544.08" y="323.43" width="14.12" height="17.61" fill="#8c8cff"/>
<rect x="18.92" y="340.74" width="14.12" height="17.61" fill="#fff500"/>
<rect x="32.74" y="340.74" width="110.86" height="17.61" fill="#ffd200"/>
<rect x="143.30" y="340.74" width="14.12" height="17.61" fill="#fff500"/>
<rect x="170.94" y="340.74" width="27.94" height="17.61" fill="#fff500"/>
<rect x="281.50" y="340.74" width="138.50" height="17.61" fill="#fff500"/>
<rect x="488.80" y="340.74" width="14.12" height="17.61" fill="#c8c8ff"/>
<rect x="544.08" y="340.74" width="14.12" height="17.61" fill="#c8c8ff"/>
<rect x="46.56" y="358.05" width="14.12" height="17.61" fill="#fff500"/>
<rect x="60.38" y="358.05" width="27.94" height="17.61" fill="#ffd200"/>
<rect x="88.02" y="358.05" width="41.76" height="17.61" fill="#fff500"/>
<rect x="129.48" y="358.05" width="14.12" height="17.61" fill="#ffd200"/>
<rect x="143.30" y="358.05" width="83.22" height="17.61" fill="#fff500"/>
<rect x="253.86" y="358.05" width="27.94" height="17.61" fill="#fff500"/>
<rect x="281.50" y="358.05" width="27.94" height="17.61" fill="#ffd200"/>
<rect x="309.14" y="358.05" width="14.12" height="17.61" fill="#fff500"/>
<rect x="322.96" y="358.05" width="14.12" height="17.61" fill="#ffd200"/>
<rect x="336.78" y="358.05" width="97.04" height="17.61" fill="#fff500"/>
<rect x="447.34" y="358.05" width="14.12" height="17.61" fill="#fff500"/>
<rect x="461.16" y="358.05" width="14.12" height="17.61" fill="#ffd200"/>
<rect x="474.98" y="358.05" width="14.12" height="17.61" fill="#fff500"/>
<rect x="530.26" y="358.05" width="14.12" height="17.61" fill="#c8c8ff"/>
<rect x="129.48" y="375.36" width="138.50" height="17.61" fill="#fff500"/>
<rect x="267.68" y="375.36" width="41.76" height="17.61" fill="#ffd200"/>
<rect x="309.14" y="375.36" width="83.22" height="17.61" fill="#fff500"/>
<rect x="419.70" y="375.36" width="27.94" height="17.61" fill="#fff500"/>
<rect x="474.98" y="375.36" width="14.12" height="17.61" fill="#ffd200"/>
<rect x="129.48" y="392.67" width="55.58" height="17.61" fill="#fff500"/>
<rect x="184.76" y="392.67" width="69.40" height="17.61" fill="#ffd200"/>
<rect x="253.86" y="392.67" width="14.12" height="17.61" fill="#fff500"/>
<rect x="267.68" y="392.67" width="41.76" height="17.61" fill="#ffd200"/>
<rect x="309.14" y="392.67" width="27.94" height="17.61" fill="#fff500"/>
<rect x="350.60" y="392.67" width="27.94" height="17.61" fill="#fff500"/>
<rect x="433.52" y="392.67" width="14.12" height="17.61" fill="#fff500"/>
<rect x="474.98" y="392.67" width="14.12" height="17.61" fill="#fff500"/>
<rect x="502.62" y="392.67" width="14.12" height="17.61" fill="#c8c8ff"/>
<rect x="143.30" y="409.98" width="27.94" height="17.61" fill="#fff500"/>
<rect x="170.94" y="409.98" width="14.12" height="17.61" fill="#ffd200"/>
<rect x="184.76" y="409.98" width="41.76" height="17.61" fill="#ff6400"/>
<rect x="226.22" y="409.98" width="69.40" height="17.61" fill="#ffd200"/>
<rect x="295.32" y="409.98" width="41.76" height="17.61" fill="#fff500"/>
<rect x="447.34" y="409.98" width="14.12" height="17.61" fill="#ffd200"/>
<rect x="461.16" y="409.98" width="27.94" height="17.61" fill="#fff500"/>
<rect x="184.76" y="427.29" width="14.12" height="17.61" fill="#ff6400"/>
<rect x="198.58" y="427.29" width="27.94" height="17.61" fill="#ff0000"/>
<rect x="226.22" y="427.29" width="41.76" height="17.61" fill="#ffd200"/>
<rect x="267.68" y="427.29" width="41.76" height="17.61" fill="#fff500"/>
<rect x="461.16" y="427.29" width="14.12" height="17.61" fill="#fff500"/>
<rect x="198.58" y="444.60" width="14.12" height="17.61" fill="#ff0000"/>
<rect x="212.40" y="444.60" width="14.12" height="17.61" fill="#ff6400"/>
<rect x="226.22" y="444.60" width="27.94" height="17.61" fill="#ffd200"/>
<rect x="253.86" y="444.60" width="41.76" height="17.61" fill="#fff500"/>
<rect x="447.34" y="444.60" width="27.94" height="17.61" fill="#fff500"/>
<rect x="198.58" y="461.91" width="14.12" height="17.61" fill="#ff6400"/>
<rect x="212.40" y="461.91" width="41.76" height="17.61" fill="#ffd200"/>
<rect x="253.86" y="461.91" width="41.76" height="17.61" fill="#fff500"/>
<rect x="447.34" y="461.91" width="41.76" height="17.61" fill="#fff500"/>
<rect x="226.22" y="479.22" width="27.94" height="17.61" fill="#ffd200"/>
<rect x="253.86" y="479.22" width="55.58" height="17.61" fill="#fff500"/>
<rect x="378.24" y="479.22" width="14.12" height="17.61" fill="#fff500"/>
<rect x="405.88" y="479.22" width="14.12" height="17.61" fill="#fff500"/>
<rect x="447.34" y="479.22" width="41.76" height="17.61" fill="#fff500"/>
<rect x="226.22" y="496.53" width="69.40" height="17.61" fill="#fff500"/>
<rect x="364.42" y="496.53" width="124.68" height="17.61" fill="#fff500"/>
<rect x="226.22" y="513.84" width="41.76" height="17.61" fill="#fff500"/>
<rect x="392.06" y="513.84" width="83.22" height="17.61" fill="#fff500"/>
<rect x="226.22" y="531.15" width="27.94" height="17.61" fill="#fff500"/>
<rect x="433.52" y="531.15" width="14.12" height="17.61" fill="#fff500"/>
<rect x="447.34" y="531.15" width="14.12" height="17.61" fill="#ffd200"/>
<rect x="461.16" y="531.15" width="14.12" height="17.61" fill="#fff500"/>
<rect x="226.22" y="548.46" width="14.12" height="17.61" fill="#fff500"/>
<rect x="433.52" y="548.46" width="14.12" height="17.61" fill="#fff500"/>
<rect x="447.34" y="548.46" width="14.12" height="17.61" fill="#ffd200"/>
<rect x="461.16" y="548.46" width="14.12" height="17.61" fill="#fff500"/>
<rect x="447.34" y="565.77" width="27.94" height="17.61" fill="#fff500"/>
<rect x="350.60" y="583.08" width="14.12" height="17.61" fill="#c8c8ff"/>
<rect x="447.34" y="583.08" width="14.12" height="17.61" fill="#fff500"/>
<rect x="350.60" y="600.39" width="55.58" height="17.61" fill="#c8c8ff"/>
<rect x="322.96" y="617.70" width="27.94" height="17.61" fill="#c8c8ff"/>
<rect x="350.60" y="617.70" width="27.94" height="17.61" fill="#8c8cff"/>
<rect x="295.32" y="635.01" width="27.94" height="17.61" fill="#c8c8ff"/>
<rect x="322.96" y="635.01" width="41.76" height="17.61" fill="#8c8cff"/>
<rect x="281.50" y="652.32" width="83.22" height="17.61" fill="#8c8cff"/>
<rect x="267.68" y="669.63" width="27.94" height="17.61" fill="#c8c8ff"/>
<rect x="295.32" y="669.63" width="69.40" height="17.61" fill="#8c8cff"/>
<rect x="267.68" y="686.94" width="14.12" height="17.61" fill="#c8c8ff"/>
<rect x="281.50" y="686.94" width="83.22" height="17.61" fill="#8c8cff"/>
<rect x="267.68" y="704.25" width="14.12" height="17.61" fill="#c8c8ff"/>
<rect x="281.50" y="704.25" width="55.58" height="17.61" fill="#8c8cff"/>
<rect x="336.78" y="704.25" width="14.12" height="17.61" fill="#4646ff"/>
<rect x="295.32" y="721.56" width="14.12" height="17.61" fill="#c8c8ff"/>
<rect x="309.14" y="721.56" width="27.94" height="17.61" fill="#8c8cff"/>
<rect x="295.32" y="738.87" width="27.94" height="17.61" fill="#c8c8ff"/>
<rect x="295.32" y="756.18" width="27.94" height="17.61" fill="#c8c8ff"/>
<rect x="295.32" y="773.49" width="14.12" height="17.61" fill="#c8c8ff"/>
</g></g>
<use href="#wt" fill="#fff"/>
<use href="#lg" fill="#fff" stroke="#000" stroke-width="1"/>
<use href="#bs" fill="none" stroke="#000" stroke-width="1.3" stroke-linejoin="round"/>
<use href="#bo" fill="none" stroke="#000" stroke-width="1.35" stroke-linejoin="round"/>
</g>
<g transform="translate(0 868.4)">
<use href="#bo" fill="#a50000"/>
<g clip-path="url(#cb)" shape-rendering="crispEdges"><g transform="translate(0 0.7)">
<rect x="267.68" y="98.40" width="83.22" height="17.61" fill="#1e82e6"/>
<rect x="115.66" y="115.71" width="83.22" height="17.61" fill="#1e82e6"/>
<rect x="267.68" y="115.71" width="83.22" height="17.61" fill="#1e82e6"/>
<rect x="129.48" y="133.02" width="69.40" height="17.61" fill="#1e82e6"/>
<rect x="267.68" y="133.02" width="83.22" height="17.61" fill="#1e82e6"/>
<rect x="60.38" y="150.33" width="55.58" height="17.61" fill="#1e82e6"/>
<rect x="143.30" y="150.33" width="55.58" height="17.61" fill="#1e82e6"/>
<rect x="198.58" y="150.33" width="14.12" height="17.61" fill="#ffffff"/>
<rect x="253.86" y="150.33" width="14.12" height="17.61" fill="#ffffff"/>
<rect x="267.68" y="150.33" width="83.22" height="17.61" fill="#1e82e6"/>
<rect x="60.38" y="167.64" width="97.04" height="17.61" fill="#ffffff"/>
<rect x="157.12" y="167.64" width="41.76" height="17.61" fill="#1e82e6"/>
<rect x="198.58" y="167.64" width="14.12" height="17.61" fill="#ffffff"/>
<rect x="240.04" y="167.64" width="69.40" height="17.61" fill="#ffffff"/>
<rect x="336.78" y="167.64" width="14.12" height="17.61" fill="#ffffff"/>
<rect x="60.38" y="184.95" width="97.04" height="17.61" fill="#ffffff"/>
<rect x="157.12" y="184.95" width="41.76" height="17.61" fill="#1e82e6"/>
<rect x="198.58" y="184.95" width="83.22" height="17.61" fill="#ffffff"/>
<rect x="336.78" y="184.95" width="14.12" height="17.61" fill="#ffffff"/>
<rect x="60.38" y="202.26" width="97.04" height="17.61" fill="#ffffff"/>
<rect x="157.12" y="202.26" width="27.94" height="17.61" fill="#1e82e6"/>
<rect x="184.76" y="202.26" width="14.12" height="17.61" fill="#ffffff"/>
<rect x="240.04" y="202.26" width="41.76" height="17.61" fill="#ffffff"/>
<rect x="60.38" y="219.57" width="27.94" height="17.61" fill="#ffffff"/>
<rect x="115.66" y="219.57" width="69.40" height="17.61" fill="#ffffff"/>
<rect x="60.38" y="236.88" width="27.94" height="17.61" fill="#ffffff"/>
<rect x="115.66" y="236.88" width="27.94" height="17.61" fill="#ffffff"/>
<rect x="253.86" y="236.88" width="14.12" height="17.61" fill="#ffffff"/>
<rect x="115.66" y="254.19" width="14.12" height="17.61" fill="#ffffff"/>
<rect x="129.48" y="254.19" width="14.12" height="17.61" fill="#1e82e6"/>
<rect x="143.30" y="254.19" width="14.12" height="17.61" fill="#ffffff"/>
<rect x="184.76" y="254.19" width="27.94" height="17.61" fill="#ffffff"/>
<rect x="253.86" y="254.19" width="14.12" height="17.61" fill="#ffffff"/>
<rect x="5.10" y="271.50" width="41.76" height="17.61" fill="#ffffff"/>
<rect x="115.66" y="271.50" width="14.12" height="17.61" fill="#ffffff"/>
<rect x="129.48" y="271.50" width="27.94" height="17.61" fill="#1e82e6"/>
<rect x="184.76" y="271.50" width="27.94" height="17.61" fill="#ffffff"/>
<rect x="253.86" y="271.50" width="14.12" height="17.61" fill="#ffffff"/>
<rect x="530.26" y="271.50" width="27.94" height="17.61" fill="#ffffff"/>
<rect x="5.10" y="288.81" width="41.76" height="17.61" fill="#ffffff"/>
<rect x="129.48" y="288.81" width="27.94" height="17.61" fill="#ffffff"/>
<rect x="516.44" y="288.81" width="41.76" height="17.61" fill="#ffffff"/>
<rect x="198.58" y="306.12" width="14.12" height="17.61" fill="#ffffff"/>
<rect x="474.98" y="306.12" width="14.12" height="17.61" fill="#ffffff"/>
<rect x="530.26" y="306.12" width="14.12" height="17.61" fill="#ffffff"/>
<rect x="184.76" y="323.43" width="27.94" height="17.61" fill="#ffffff"/>
<rect x="474.98" y="323.43" width="14.12" height="17.61" fill="#ffffff"/>
<rect x="516.44" y="323.43" width="14.12" height="17.61" fill="#ffffff"/>
<rect x="184.76" y="340.74" width="27.94" height="17.61" fill="#ffffff"/>
<rect x="488.80" y="340.74" width="14.12" height="17.61" fill="#ffffff"/>
<rect x="516.44" y="340.74" width="14.12" height="17.61" fill="#ffffff"/>
<rect x="474.98" y="358.05" width="27.94" height="17.61" fill="#ffffff"/>
<rect x="447.34" y="392.67" width="27.94" height="17.61" fill="#ffffff"/>
<rect x="447.34" y="409.98" width="41.76" height="17.61" fill="#ffffff"/>
<rect x="253.86" y="548.46" width="14.12" height="17.61" fill="#1e82e6"/>
<rect x="419.70" y="548.46" width="14.12" height="17.61" fill="#ffffff"/>
<rect x="419.70" y="565.77" width="14.12" height="17.61" fill="#1e82e6"/>
<rect x="281.50" y="617.70" width="14.12" height="17.61" fill="#ffffff"/>
<rect x="378.24" y="617.70" width="14.12" height="17.61" fill="#ffffff"/>
<rect x="281.50" y="635.01" width="14.12" height="17.61" fill="#ffffff"/>
<rect x="295.32" y="635.01" width="14.12" height="17.61" fill="#1e82e6"/>
<rect x="309.14" y="635.01" width="55.58" height="17.61" fill="#ffffff"/>
<rect x="281.50" y="652.32" width="83.22" height="17.61" fill="#ffffff"/>
<rect x="281.50" y="669.63" width="27.94" height="17.61" fill="#ffffff"/>
<rect x="309.14" y="669.63" width="55.58" height="17.61" fill="#1e82e6"/>
<rect x="281.50" y="686.94" width="14.12" height="17.61" fill="#ffffff"/>
<rect x="295.32" y="686.94" width="69.40" height="17.61" fill="#1e82e6"/>
<rect x="281.50" y="704.25" width="14.12" height="17.61" fill="#ffffff"/>
<rect x="295.32" y="704.25" width="55.58" height="17.61" fill="#1e82e6"/>
<rect x="281.50" y="721.56" width="41.76" height="17.61" fill="#ffffff"/>
<rect x="322.96" y="721.56" width="14.12" height="17.61" fill="#1e82e6"/>
<rect x="281.50" y="738.87" width="27.94" height="17.61" fill="#1e82e6"/>
<rect x="295.32" y="756.18" width="14.12" height="17.61" fill="#1e82e6"/>
<rect x="295.32" y="773.49" width="14.12" height="17.61" fill="#1e82e6"/>
</g></g>
<use href="#wt" fill="#fff"/>
<use href="#lg" fill="#fff" stroke="#000" stroke-width="1"/>
<use href="#bs" fill="none" stroke="#000" stroke-width="1.3" stroke-linejoin="round"/>
<use href="#bo" fill="none" stroke="#000" stroke-width="1.35" stroke-linejoin="round"/>
</g>
<g transform="translate(583.8 870.7)">
<use href="#bo" fill="#d2d2d2"/>
<g clip-path="url(#cb)" shape-rendering="crispEdges"><g transform="translate(0 0)">
<rect x="115.66" y="115.71" width="83.22" height="17.61" fill="#003cb4"/>
<rect x="129.48" y="133.02" width="55.58" height="17.61" fill="#003cb4"/>
<rect x="88.02" y="150.33" width="27.94" height="17.61" fill="#003cb4"/>
<rect x="143.30" y="150.33" width="41.76" height="17.61" fill="#003cb4"/>
<rect x="253.86" y="150.33" width="14.12" height="17.61" fill="#003cb4"/>
<rect x="74.20" y="167.64" width="14.12" height="17.61" fill="#003cb4"/>
<rect x="129.48" y="167.64" width="27.94" height="17.61" fill="#003cb4"/>
<rect x="170.94" y="167.64" width="41.76" height="17.61" fill="#003cb4"/>
<rect x="295.32" y="167.64" width="14.12" height="17.61" fill="#003cb4"/>
<rect x="336.78" y="167.64" width="14.12" height="17.61" fill="#003cb4"/>
<rect x="60.38" y="184.95" width="27.94" height="17.61" fill="#003cb4"/>
<rect x="101.84" y="184.95" width="41.76" height="17.61" fill="#003cb4"/>
<rect x="198.58" y="184.95" width="41.76" height="17.61" fill="#003cb4"/>
<rect x="350.60" y="184.95" width="14.12" height="17.61" fill="#003cb4"/>
<rect x="88.02" y="202.26" width="41.76" height="17.61" fill="#003cb4"/>
<rect x="240.04" y="202.26" width="41.76" height="17.61" fill="#003cb4"/>
<rect x="336.78" y="202.26" width="27.94" height="17.61" fill="#003cb4"/>
<rect x="88.02" y="219.57" width="27.94" height="17.61" fill="#003cb4"/>
<rect x="184.76" y="219.57" width="14.12" height="17.61" fill="#003cb4"/>
<rect x="88.02" y="236.88" width="69.40" height="17.61" fill="#003cb4"/>
<rect x="184.76" y="236.88" width="14.12" height="17.61" fill="#003cb4"/>
<rect x="253.86" y="236.88" width="14.12" height="17.61" fill="#003cb4"/>
<rect x="60.38" y="254.19" width="69.40" height="17.61" fill="#003cb4"/>
<rect x="143.30" y="254.19" width="27.94" height="17.61" fill="#003cb4"/>
<rect x="253.86" y="254.19" width="14.12" height="17.61" fill="#003cb4"/>
<rect x="32.74" y="271.50" width="14.12" height="17.61" fill="#003cb4"/>
<rect x="60.38" y="271.50" width="27.94" height="17.61" fill="#003cb4"/>
<rect x="101.84" y="271.50" width="27.94" height="17.61" fill="#003cb4"/>
<rect x="157.12" y="271.50" width="27.94" height="17.61" fill="#003cb4"/>
<rect x="198.58" y="271.50" width="14.12" height="17.61" fill="#003cb4"/>
<rect x="253.86" y="271.50" width="14.12" height="17.61" fill="#003cb4"/>
<rect x="60.38" y="288.81" width="69.40" height="17.61" fill="#003cb4"/>
<rect x="157.12" y="288.81" width="41.76" height="17.61" fill="#003cb4"/>
<rect x="516.44" y="288.81" width="14.12" height="17.61" fill="#003cb4"/>
<rect x="32.74" y="306.12" width="14.12" height="17.61" fill="#003cb4"/>
<rect x="74.20" y="306.12" width="124.68" height="17.61" fill="#003cb4"/>
<rect x="212.40" y="306.12" width="14.12" height="17.61" fill="#003cb4"/>
<rect x="474.98" y="306.12" width="14.12" height="17.61" fill="#003cb4"/>
<rect x="530.26" y="306.12" width="14.12" height="17.61" fill="#003cb4"/>
<rect x="32.74" y="323.43" width="27.94" height="17.61" fill="#003cb4"/>
<rect x="88.02" y="323.43" width="110.86" height="17.61" fill="#003cb4"/>
<rect x="212.40" y="323.43" width="14.12" height="17.61" fill="#003cb4"/>
<rect x="309.14" y="323.43" width="41.76" height="17.61" fill="#003cb4"/>
<rect x="364.42" y="323.43" width="27.94" height="17.61" fill="#003cb4"/>
<rect x="474.98" y="323.43" width="14.12" height="17.61" fill="#003cb4"/>
<rect x="516.44" y="323.43" width="14.12" height="17.61" fill="#003cb4"/>
<rect x="18.92" y="340.74" width="138.50" height="17.61" fill="#003cb4"/>
<rect x="170.94" y="340.74" width="14.12" height="17.61" fill="#003cb4"/>
<rect x="198.58" y="340.74" width="14.12" height="17.61" fill="#003cb4"/>
<rect x="281.50" y="340.74" width="138.50" height="17.61" fill="#003cb4"/>
<rect x="516.44" y="340.74" width="14.12" height="17.61" fill="#003cb4"/>
<rect x="46.56" y="358.05" width="179.96" height="17.61" fill="#003cb4"/>
<rect x="253.86" y="358.05" width="179.96" height="17.61" fill="#003cb4"/>
<rect x="447.34" y="358.05" width="27.94" height="17.61" fill="#003cb4"/>
<rect x="488.80" y="358.05" width="14.12" height="17.61" fill="#003cb4"/>
<rect x="101.84" y="375.36" width="290.52" height="17.61" fill="#003cb4"/>
<rect x="419.70" y="375.36" width="27.94" height="17.61" fill="#003cb4"/>
<rect x="474.98" y="375.36" width="14.12" height="17.61" fill="#003cb4"/>
<rect x="115.66" y="392.67" width="221.42" height="17.61" fill="#003cb4"/>
<rect x="350.60" y="392.67" width="27.94" height="17.61" fill="#003cb4"/>
<rect x="433.52" y="392.67" width="55.58" height="17.61" fill="#003cb4"/>
<rect x="115.66" y="409.98" width="221.42" height="17.61" fill="#003cb4"/>
<rect x="115.66" y="427.29" width="193.78" height="17.61" fill="#003cb4"/>
<rect x="461.16" y="427.29" width="14.12" height="17.61" fill="#003cb4"/>
<rect x="115.66" y="444.60" width="179.96" height="17.61" fill="#003cb4"/>
<rect x="447.34" y="444.60" width="27.94" height="17.61" fill="#003cb4"/>
<rect x="115.66" y="461.91" width="179.96" height="17.61" fill="#003cb4"/>
<rect x="447.34" y="461.91" width="41.76" height="17.61" fill="#003cb4"/>
<rect x="115.66" y="479.22" width="193.78" height="17.61" fill="#003cb4"/>
<rect x="378.24" y="479.22" width="14.12" height="17.61" fill="#003cb4"/>
<rect x="405.88" y="479.22" width="14.12" height="17.61" fill="#003cb4"/>
<rect x="447.34" y="479.22" width="41.76" height="17.61" fill="#003cb4"/>
<rect x="115.66" y="496.53" width="179.96" height="17.61" fill="#003cb4"/>
<rect x="364.42" y="496.53" width="124.68" height="17.61" fill="#003cb4"/>
<rect x="115.66" y="513.84" width="152.32" height="17.61" fill="#003cb4"/>
<rect x="392.06" y="513.84" width="83.22" height="17.61" fill="#003cb4"/>
<rect x="115.66" y="531.15" width="138.50" height="17.61" fill="#003cb4"/>
<rect x="433.52" y="531.15" width="41.76" height="17.61" fill="#003cb4"/>
<rect x="226.22" y="548.46" width="14.12" height="17.61" fill="#003cb4"/>
<rect x="419.70" y="548.46" width="55.58" height="17.61" fill="#003cb4"/>
<rect x="447.34" y="565.77" width="27.94" height="17.61" fill="#003cb4"/>
<rect x="447.34" y="583.08" width="14.12" height="17.61" fill="#003cb4"/>
<rect x="281.50" y="617.70" width="14.12" height="17.61" fill="#003cb4"/>
<rect x="281.50" y="635.01" width="27.94" height="17.61" fill="#003cb4"/>
<rect x="309.14" y="669.63" width="55.58" height="17.61" fill="#003cb4"/>
<rect x="295.32" y="686.94" width="69.40" height="17.61" fill="#003cb4"/>
<rect x="295.32" y="704.25" width="55.58" height="17.61" fill="#003cb4"/>
<rect x="281.50" y="721.56" width="14.12" height="17.61" fill="#003cb4"/>
<rect x="322.96" y="721.56" width="14.12" height="17.61" fill="#003cb4"/>
<rect x="295.32" y="738.87" width="14.12" height="17.61" fill="#003cb4"/>
<rect x="295.32" y="756.18" width="14.12" height="17.61" fill="#003cb4"/>
<rect x="295.32" y="773.49" width="14.12" height="17.61" fill="#003cb4"/>
</g></g>
<use href="#wt" fill="#fff"/>
<use href="#lg" fill="#fff" stroke="#000" stroke-width="1"/>
<use href="#bs" fill="none" stroke="#000" stroke-width="1.3" stroke-linejoin="round"/>
<use href="#bo" fill="none" stroke="#000" stroke-width="1.35" stroke-linejoin="round"/>
</g>
<text x="11.2" y="59.1" font-size="24.8" textLength="125.7" lengthAdjust="spacingAndGlyphs" class="t">Correlacao</text>
<text x="152.7" y="59.1" font-size="24.8" textLength="28.6" lengthAdjust="spacingAndGlyphs" class="t">de</text>
<text x="193.3" y="59.1" font-size="24.8" textLength="97.9" lengthAdjust="spacingAndGlyphs" class="t">Anomalia</text>
<text x="315.1" y="59.1" font-size="24.8" textLength="27.4" lengthAdjust="spacingAndGlyphs" class="t">de</text>
<text x="356.5" y="59.1" font-size="24.8" textLength="146" lengthAdjust="spacingAndGlyphs" class="t">Precipitacao</text>
<text x="517.3" y="59.1" font-size="24.8" textLength="41.1" lengthAdjust="spacingAndGlyphs" class="t">MJJ</text>
<text x="66.3" y="88.1" font-size="24.6" textLength="70.6" lengthAdjust="spacingAndGlyphs" class="t">media</text>
<text x="151.5" y="88.1" font-size="24.6" textLength="353.5" lengthAdjust="spacingAndGlyphs" class="t">[CPTEC1.2+INMET+FUNCEME]</text>
<text x="645.5" y="60" font-size="23" textLength="144.2" lengthAdjust="spacingAndGlyphs" class="t">Multi-modelo</text>
<text x="802.6" y="60" font-size="23" textLength="258.5" lengthAdjust="spacingAndGlyphs" class="t">CPTEC/INMET/FUNCEME</text>
<text x="649.8" y="84.7" font-size="21.1" textLength="73.2" lengthAdjust="spacingAndGlyphs" class="u">Probab.</text>
<text x="735.3" y="84.7" font-size="21.1" textLength="47.3" lengthAdjust="spacingAndGlyphs" class="u">tercil</text>
<text x="794.6" y="84.7" font-size="21.1" textLength="44.8" lengthAdjust="spacingAndGlyphs" class="u">mais</text>
<text x="850.5" y="84.7" font-size="21.1" textLength="84.7" lengthAdjust="spacingAndGlyphs" class="u">provavel:</text>
<text x="947.4" y="84.7" font-size="21.1" textLength="64.7" lengthAdjust="spacingAndGlyphs" class="u">Precip.</text>
<text x="1024.1" y="84.7" font-size="21.1" textLength="31.8" lengthAdjust="spacingAndGlyphs" class="u">(%)</text>
<text x="657.3" y="105.7" font-size="19.6" textLength="90.3" lengthAdjust="spacingAndGlyphs" class="u">Produzida:</text>
<text x="756" y="105.7" font-size="19.6" textLength="28.4" lengthAdjust="spacingAndGlyphs" class="u">Abr</text>
<text x="793.6" y="105.7" font-size="19.6" textLength="43.9" lengthAdjust="spacingAndGlyphs" class="u">2024</text>
<text x="856.5" y="105.7" font-size="19.6" textLength="50.4" lengthAdjust="spacingAndGlyphs" class="u">Valida</text>
<text x="916.4" y="105.7" font-size="19.6" textLength="38.9" lengthAdjust="spacingAndGlyphs" class="u">para</text>
<text x="964.5" y="105.7" font-size="19.6" textLength="30.9" lengthAdjust="spacingAndGlyphs" class="u">MJJ</text>
<text x="1005.1" y="105.7" font-size="19.6" textLength="43" lengthAdjust="spacingAndGlyphs" class="u">2024</text>
<text x="59.2" y="928" font-size="24" textLength="145.2" lengthAdjust="spacingAndGlyphs" class="t">Precipitacao</text>
<text x="219.7" y="928" font-size="24" textLength="121.9" lengthAdjust="spacingAndGlyphs" class="t">Observada</text>
<text x="357.2" y="928" font-size="24" textLength="153.8" lengthAdjust="spacingAndGlyphs" class="t">Categorizada</text>
<text x="226.2" y="956.9" font-size="24" textLength="118.8" lengthAdjust="spacingAndGlyphs" class="t">MJJ/2024</text>
<text x="577.4" y="929.7" font-size="24" textLength="109.1" lengthAdjust="spacingAndGlyphs" class="t">Avaliacao</text>
<text x="701.5" y="929.7" font-size="24" textLength="57.2" lengthAdjust="spacingAndGlyphs" class="t">Prev.</text>
<text x="775" y="929.7" font-size="24" textLength="138.1" lengthAdjust="spacingAndGlyphs" class="t">Multimodelo</text>
<text x="929.6" y="929.7" font-size="24" textLength="27" lengthAdjust="spacingAndGlyphs" class="t">de</text>
<text x="973" y="929.7" font-size="24" textLength="60" lengthAdjust="spacingAndGlyphs" class="b" style="fill:#1e46ff">Prec.</text>
<text x="1040.7" y="929.7" font-size="24" textLength="119.5" lengthAdjust="spacingAndGlyphs" class="t">MJJ/2024</text>
<text x="670" y="958.9" font-size="24" textLength="70.3" lengthAdjust="spacingAndGlyphs" class="t">media</text>
<text x="754.7" y="958.9" font-size="24" textLength="314.3" lengthAdjust="spacingAndGlyphs" class="t">[CPTEC+INMET+FUNCEME]</text>
<g stroke="#000" stroke-width="1.3" stroke-linejoin="miter">
<path d="M103 797.3L61.9 803.6L103 810Z" fill="#1e6eeb"/>
<rect x="103" y="797.3" width="40.3" height="12.7" fill="#3c96f5"/>
<rect x="143.3" y="797.3" width="40.3" height="12.7" fill="#78b9fa"/>
<rect x="183.6" y="797.3" width="40.3" height="12.7" fill="#96d2fa"/>
<rect x="223.9" y="797.3" width="40.3" height="12.7" fill="#b4f0fa"/>
<rect x="264.2" y="797.3" width="40.3" height="12.7" fill="#ffffff"/>
<rect x="304.5" y="797.3" width="40.3" height="12.7" fill="#ffe878"/>
<rect x="344.8" y="797.3" width="40.3" height="12.7" fill="#ffa000"/>
<rect x="385.1" y="797.3" width="40.3" height="12.7" fill="#ff6000"/>
<rect x="425.4" y="797.3" width="40.3" height="12.7" fill="#e11400"/>
<path d="M465.7 797.3L508 803.6L465.7 810Z" fill="#a50000"/>
</g>
<text x="88.2" y="822.7" font-size="13.2" textLength="29.5" lengthAdjust="spacingAndGlyphs" class="m" >-0.8</text>
<text x="128.6" y="822.7" font-size="13.2" textLength="29.5" lengthAdjust="spacingAndGlyphs" class="m" >-0.6</text>
<text x="168.8" y="822.7" font-size="13.2" textLength="29.5" lengthAdjust="spacingAndGlyphs" class="m" >-0.4</text>
<text x="209.1" y="822.7" font-size="13.2" textLength="29.5" lengthAdjust="spacingAndGlyphs" class="m" >-0.3</text>
<text x="249.4" y="822.7" font-size="13.2" textLength="29.5" lengthAdjust="spacingAndGlyphs" class="m" >-0.2</text>
<text x="294.6" y="822.7" font-size="13.2" textLength="19.8" lengthAdjust="spacingAndGlyphs" class="m" >0.2</text>
<text x="334.9" y="822.7" font-size="13.2" textLength="19.8" lengthAdjust="spacingAndGlyphs" class="m" >0.3</text>
<text x="375.2" y="822.7" font-size="13.2" textLength="19.8" lengthAdjust="spacingAndGlyphs" class="m" >0.4</text>
<text x="415.5" y="822.7" font-size="13.2" textLength="19.8" lengthAdjust="spacingAndGlyphs" class="m" >0.6</text>
<text x="455.8" y="822.7" font-size="13.2" textLength="19.8" lengthAdjust="spacingAndGlyphs" class="m" >0.8</text>
<text x="134.6" y="792.9" font-size="11.8" textLength="32.4" lengthAdjust="spacingAndGlyphs" class="b">Fonte</text>
<text x="172.7" y="792.9" font-size="11.8" textLength="65.5" lengthAdjust="spacingAndGlyphs" class="b">observacao</text>
<text x="243.8" y="792.9" font-size="11.8" textLength="52.3" lengthAdjust="spacingAndGlyphs" class="b">utilizada:</text>
<text x="301.2" y="792.9" font-size="11.8" textLength="49.5" lengthAdjust="spacingAndGlyphs" class="b">GPCP2.2</text>
<text x="356.3" y="792.9" font-size="11.8" textLength="79" lengthAdjust="spacingAndGlyphs" class="b">(1981-2010)</text>
<g stroke="#000" stroke-width="1.3" stroke-linejoin="miter">
<path d="M679.4 802.4L630.1 808.6L679.4 814.8Z" fill="#ff0000"/>
<rect x="679.4" y="802.4" width="49.5" height="12.4" fill="#ff6400"/>
<rect x="728.9" y="802.4" width="49.5" height="12.4" fill="#ffd200"/>
<rect x="778.4" y="802.4" width="49.5" height="12.4" fill="#fff500"/>
<rect x="827.9" y="802.4" width="49.5" height="12.4" fill="#ffffff"/>
<rect x="877.4" y="802.4" width="49.5" height="12.4" fill="#c8c8ff"/>
<rect x="926.9" y="802.4" width="49.5" height="12.4" fill="#8c8cff"/>
<rect x="976.4" y="802.4" width="49.5" height="12.4" fill="#4646ff"/>
<path d="M1025.9 802.4L1075.9 808.6L1025.9 814.8Z" fill="#0000ff"/>
</g>
<text x="666.1" y="827.9" font-size="13.2" textLength="26.5" lengthAdjust="spacingAndGlyphs" class="m" >-80</text>
<text x="715.6" y="827.9" font-size="13.2" textLength="26.5" lengthAdjust="spacingAndGlyphs" class="m" >-70</text>
<text x="765.1" y="827.9" font-size="13.2" textLength="26.5" lengthAdjust="spacingAndGlyphs" class="m" >-50</text>
<text x="814.6" y="827.9" font-size="13.2" textLength="26.5" lengthAdjust="spacingAndGlyphs" class="m" >-40</text>
<text x="869.6" y="827.9" font-size="13.2" textLength="15.6" lengthAdjust="spacingAndGlyphs" class="m" >40</text>
<text x="919.1" y="827.9" font-size="13.2" textLength="15.6" lengthAdjust="spacingAndGlyphs" class="m" >50</text>
<text x="968.6" y="827.9" font-size="13.2" textLength="15.6" lengthAdjust="spacingAndGlyphs" class="m" >70</text>
<text x="1018.1" y="827.9" font-size="13.2" textLength="15.6" lengthAdjust="spacingAndGlyphs" class="m" >80</text>
<text x="695.7" y="798.1" font-size="11.8" textLength="50.2" lengthAdjust="spacingAndGlyphs" class="b">BRANCO:</text>
<text x="751.6" y="798.1" font-size="11.8" textLength="27.4" lengthAdjust="spacingAndGlyphs" class="b">Igual</text>
<text x="784.6" y="798.1" font-size="11.8" textLength="75.6" lengthAdjust="spacingAndGlyphs" class="b">probabilidade</text>
<text x="866" y="798.1" font-size="11.8" textLength="26.8" lengthAdjust="spacingAndGlyphs" class="b">para</text>
<text x="898.4" y="798.1" font-size="11.8" textLength="14.7" lengthAdjust="spacingAndGlyphs" class="b">as</text>
<text x="918.7" y="798.1" font-size="11.8" textLength="22.3" lengthAdjust="spacingAndGlyphs" class="b">tres</text>
<text x="946.6" y="798.1" font-size="11.8" textLength="63" lengthAdjust="spacingAndGlyphs" class="b">categorias.</text>
<text x="211" y="1658.9" font-size="11.8" textLength="72.5" lengthAdjust="spacingAndGlyphs" class="b">Climatologia:</text>
<text x="291" y="1658.9" font-size="11.8" textLength="67.9" lengthAdjust="spacingAndGlyphs" class="b">1981-2010</text>
<g stroke="#000" stroke-width="1">
<rect x="167.9" y="1663.2" width="234.1" height="18.4" fill="#fff"/>
</g>
<rect x="167.9" y="1663.7" width="78" height="17.4" fill="#a50000"/><rect x="324.3" y="1663.7" width="77.7" height="17.4" fill="#1e82e6"/>
<rect x="167.9" y="1663.2" width="234.1" height="18.4" fill="none" stroke="#000" stroke-width="1"/>
<text x="187.7" y="1698.9" font-size="13.8" textLength="39.8" lengthAdjust="spacingAndGlyphs" class="m" >ABAIXO</text>
<text x="262.2" y="1698.9" font-size="13.8" textLength="45.6" lengthAdjust="spacingAndGlyphs" class="m" >NORMAL</text>
<text x="345.1" y="1698.9" font-size="13.8" textLength="34.1" lengthAdjust="spacingAndGlyphs" class="m" >ACIMA</text>
<text x="780.6" y="1660.9" font-size="11.8" textLength="50.3" lengthAdjust="spacingAndGlyphs" class="b">BRANCO:</text>
<text x="836.5" y="1660.9" font-size="11.8" textLength="31.2" lengthAdjust="spacingAndGlyphs" class="b">Baixa</text>
<text x="872.8" y="1660.9" font-size="11.8" textLength="83.9" lengthAdjust="spacingAndGlyphs" class="b">previsibilidade.</text>
<rect x="777.3" y="1665.9" width="80.7" height="18.2" fill="#d2d2d2"/><rect x="858" y="1665.9" width="80.6" height="18.2" fill="#003cb4"/>
<rect x="777.3" y="1665.9" width="161.3" height="18.2" fill="none" stroke="#000" stroke-width="1"/>
<text x="789.5" y="1680.2" font-size="14.7" textLength="57.4" lengthAdjust="spacingAndGlyphs" class="b" >60.00 %</text>
<text x="869.2" y="1680.2" font-size="14.7" textLength="58.5" lengthAdjust="spacingAndGlyphs" class="b" fill="#fff" style="fill:#fff" >40.00 %</text>
<text x="797.6" y="1702.2" font-size="17.2" textLength="36.8" lengthAdjust="spacingAndGlyphs" class="m" >ERRO</text>
<text x="871.6" y="1702.2" font-size="17.2" textLength="52" lengthAdjust="spacingAndGlyphs" class="m" >ACERTO</text>
<text x="1031.9" y="1704.1" font-size="11.8" textLength="47.9" lengthAdjust="spacingAndGlyphs" class="m2">Avaliada</text>
<text x="1085.4" y="1704.1" font-size="11.8" textLength="17.3" lengthAdjust="spacingAndGlyphs" class="m2">em</text>
<text x="1108.4" y="1704.1" font-size="11.8" textLength="63.1" lengthAdjust="spacingAndGlyphs" class="m2">Ago/2024.</text>
<g transform="translate(0 0)">
<rect x="61.9" y="719" width="35.1" height="30.5" fill="#fdf0a8"/>
<circle cx="88.3" cy="727.6" r="4.6" fill="#c9b98a" opacity=".6"/>
<circle cx="89.2" cy="726.6" r="4.7" fill="#b40f14"/><circle cx="88" cy="725.2" r="1.6" fill="#e8787a"/>
<path d="M66 715V786M30 750H101" stroke="#000" stroke-width="1.3" fill="none"/>
<text x="67.8" y="763" font-size="10.6" class="b" textLength="54.2" lengthAdjust="spacingAndGlyphs" style="fill:#0a14ff;stroke:#0a14ff;stroke-width:.5px">FUNCEME</text>
</g>
<g transform="translate(567.9 5.3)">
<rect x="61.9" y="719" width="35.1" height="30.5" fill="#fdf0a8"/>
<circle cx="88.3" cy="727.6" r="4.6" fill="#c9b98a" opacity=".6"/>
<circle cx="89.2" cy="726.6" r="4.7" fill="#b40f14"/><circle cx="88" cy="725.2" r="1.6" fill="#e8787a"/>
<path d="M66 715V786M30 750H101" stroke="#000" stroke-width="1.3" fill="none"/>
<text x="67.8" y="763" font-size="10.6" class="b" textLength="54.2" lengthAdjust="spacingAndGlyphs" style="fill:#0a14ff;stroke:#0a14ff;stroke-width:.5px">FUNCEME</text>
</g>
<g transform="translate(583.8 871.4)">
<rect x="61.9" y="719" width="35.1" height="30.5" fill="#fdf0a8"/>
<circle cx="88.3" cy="727.6" r="4.6" fill="#c9b98a" opacity=".6"/>
<circle cx="89.2" cy="726.6" r="4.7" fill="#b40f14"/><circle cx="88" cy="725.2" r="1.6" fill="#e8787a"/>
<path d="M66 715V786M30 750H101" stroke="#000" stroke-width="1.3" fill="none"/>
<text x="67.8" y="763" font-size="10.6" class="b" textLength="54.2" lengthAdjust="spacingAndGlyphs" style="fill:#0a14ff;stroke:#0a14ff;stroke-width:.5px">FUNCEME</text>
</g>
<g transform="translate(0 0)">
<rect x="156" y="711.1" width="67.8" height="61.7" fill="#2e3192"/>
<path d="M203.9 716.1L205.1 726.2L210 717.3L207.2 727.1L215.2 720.8L208.9 728.8L218.7 726L209.8 730.9L219.9 732.1L209.8 733.3L218.7 738.2L208.9 735.4L215.2 743.4L207.2 737.1L210 746.9L205.1 738L203.9 748.1L202.7 738L197.8 746.9L200.6 737.1L192.6 743.4L198.9 735.4L189.1 738.2L198 733.3L187.9 732.1L198 730.9L189.1 726L198.9 728.8L192.6 720.8L200.6 727.1L197.8 717.3L202.7 726.2Z" fill="#ffd200"/>
<circle cx="203.9" cy="732.1" r="6.6" fill="#ffdc14"/>
<g fill="#fff" stroke="#45b4ea" stroke-width="1.5">
<ellipse cx="170" cy="741" rx="9.5" ry="9.5"/>
<ellipse cx="180" cy="736" rx="9" ry="9"/>
<ellipse cx="191" cy="736" rx="10" ry="10"/>
<ellipse cx="201" cy="744" rx="8" ry="7"/>
<ellipse cx="209" cy="749" rx="6.5" ry="6.5"/>
<ellipse cx="200" cy="752" rx="7" ry="5.5"/>
<ellipse cx="189" cy="752" rx="8" ry="6"/>
<ellipse cx="178" cy="751" rx="8" ry="6"/>
</g>
<g fill="#fff">
<ellipse cx="171" cy="741" rx="8.6" ry="8.6"/>
<ellipse cx="181" cy="737" rx="8.4" ry="8.4"/>
<ellipse cx="191" cy="737" rx="9.2" ry="9.2"/>
<ellipse cx="200" cy="744" rx="7.2" ry="6.4"/>
<ellipse cx="208" cy="749" rx="5.8" ry="5.8"/>
<ellipse cx="199" cy="751" rx="6.4" ry="4.8"/>
<ellipse cx="189" cy="750" rx="7.4" ry="5.6"/>
<ellipse cx="179" cy="749" rx="7.4" ry="5.6"/>
<ellipse cx="188" cy="744" rx="14" ry="7"/>
</g>
<path d="M175 743q2 4 7 3M183 735q3 -3 7 -2M192 747q4 2 8 0M198 741q3 -2 6 1M180 753q4 2 7 0" stroke="#29abe2" stroke-width="1" fill="none"/>
<text x="166.8" y="769.8" font-size="14.6" class="b" textLength="46.6" lengthAdjust="spacingAndGlyphs" style="fill:#fff">INMET</text>
</g>
<g transform="translate(567.9 4.9)">
<rect x="156" y="711.1" width="67.8" height="61.7" fill="#2e3192"/>
<path d="M203.9 716.1L205.1 726.2L210 717.3L207.2 727.1L215.2 720.8L208.9 728.8L218.7 726L209.8 730.9L219.9 732.1L209.8 733.3L218.7 738.2L208.9 735.4L215.2 743.4L207.2 737.1L210 746.9L205.1 738L203.9 748.1L202.7 738L197.8 746.9L200.6 737.1L192.6 743.4L198.9 735.4L189.1 738.2L198 733.3L187.9 732.1L198 730.9L189.1 726L198.9 728.8L192.6 720.8L200.6 727.1L197.8 717.3L202.7 726.2Z" fill="#ffd200"/>
<circle cx="203.9" cy="732.1" r="6.6" fill="#ffdc14"/>
<g fill="#fff" stroke="#45b4ea" stroke-width="1.5">
<ellipse cx="170" cy="741" rx="9.5" ry="9.5"/>
<ellipse cx="180" cy="736" rx="9" ry="9"/>
<ellipse cx="191" cy="736" rx="10" ry="10"/>
<ellipse cx="201" cy="744" rx="8" ry="7"/>
<ellipse cx="209" cy="749" rx="6.5" ry="6.5"/>
<ellipse cx="200" cy="752" rx="7" ry="5.5"/>
<ellipse cx="189" cy="752" rx="8" ry="6"/>
<ellipse cx="178" cy="751" rx="8" ry="6"/>
</g>
<g fill="#fff">
<ellipse cx="171" cy="741" rx="8.6" ry="8.6"/>
<ellipse cx="181" cy="737" rx="8.4" ry="8.4"/>
<ellipse cx="191" cy="737" rx="9.2" ry="9.2"/>
<ellipse cx="200" cy="744" rx="7.2" ry="6.4"/>
<ellipse cx="208" cy="749" rx="5.8" ry="5.8"/>
<ellipse cx="199" cy="751" rx="6.4" ry="4.8"/>
<ellipse cx="189" cy="750" rx="7.4" ry="5.6"/>
<ellipse cx="179" cy="749" rx="7.4" ry="5.6"/>
<ellipse cx="188" cy="744" rx="14" ry="7"/>
</g>
<path d="M175 743q2 4 7 3M183 735q3 -3 7 -2M192 747q4 2 8 0M198 741q3 -2 6 1M180 753q4 2 7 0" stroke="#29abe2" stroke-width="1" fill="none"/>
<text x="166.8" y="769.8" font-size="14.6" class="b" textLength="46.6" lengthAdjust="spacingAndGlyphs" style="fill:#fff">INMET</text>
</g>
<g transform="translate(584.3 870.8)">
<rect x="156" y="711.1" width="67.8" height="61.7" fill="#2e3192"/>
<path d="M203.9 716.1L205.1 726.2L210 717.3L207.2 727.1L215.2 720.8L208.9 728.8L218.7 726L209.8 730.9L219.9 732.1L209.8 733.3L218.7 738.2L208.9 735.4L215.2 743.4L207.2 737.1L210 746.9L205.1 738L203.9 748.1L202.7 738L197.8 746.9L200.6 737.1L192.6 743.4L198.9 735.4L189.1 738.2L198 733.3L187.9 732.1L198 730.9L189.1 726L198.9 728.8L192.6 720.8L200.6 727.1L197.8 717.3L202.7 726.2Z" fill="#ffd200"/>
<circle cx="203.9" cy="732.1" r="6.6" fill="#ffdc14"/>
<g fill="#fff" stroke="#45b4ea" stroke-width="1.5">
<ellipse cx="170" cy="741" rx="9.5" ry="9.5"/>
<ellipse cx="180" cy="736" rx="9" ry="9"/>
<ellipse cx="191" cy="736" rx="10" ry="10"/>
<ellipse cx="201" cy="744" rx="8" ry="7"/>
<ellipse cx="209" cy="749" rx="6.5" ry="6.5"/>
<ellipse cx="200" cy="752" rx="7" ry="5.5"/>
<ellipse cx="189" cy="752" rx="8" ry="6"/>
<ellipse cx="178" cy="751" rx="8" ry="6"/>
</g>
<g fill="#fff">
<ellipse cx="171" cy="741" rx="8.6" ry="8.6"/>
<ellipse cx="181" cy="737" rx="8.4" ry="8.4"/>
<ellipse cx="191" cy="737" rx="9.2" ry="9.2"/>
<ellipse cx="200" cy="744" rx="7.2" ry="6.4"/>
<ellipse cx="208" cy="749" rx="5.8" ry="5.8"/>
<ellipse cx="199" cy="751" rx="6.4" ry="4.8"/>
<ellipse cx="189" cy="750" rx="7.4" ry="5.6"/>
<ellipse cx="179" cy="749" rx="7.4" ry="5.6"/>
<ellipse cx="188" cy="744" rx="14" ry="7"/>
</g>
<path d="M175 743q2 4 7 3M183 735q3 -3 7 -2M192 747q4 2 8 0M198 741q3 -2 6 1M180 753q4 2 7 0" stroke="#29abe2" stroke-width="1" fill="none"/>
<text x="166.8" y="769.8" font-size="14.6" class="b" textLength="46.6" lengthAdjust="spacingAndGlyphs" style="fill:#fff">INMET</text>
</g>
<g transform="translate(380 705)">
<g transform="scale(0.08467)">
<path d="M100 420C110 520 180 640 290 715C400 790 560 805 690 740C840 665 930 500 935 310L975 305L850 180L710 305L755 310C750 440 690 560 590 625C480 695 330 700 230 630C160 580 115 500 100 420Z" fill="#0a78be"/>
<path d="M105 470C85 300 230 110 390 110C560 110 615 240 612 350L660 350L515 470L395 350L445 350C450 285 390 245 320 245C215 245 125 360 110 490" fill="none" stroke="#0a78be" stroke-width="13" stroke-linejoin="miter"/>
<circle cx="515" cy="568" r="90" fill="#f39208"/>
<rect x="88" y="815" width="892" height="70" fill="#1482c8"/>
</g>
<text x="13.1" y="43.2" font-size="11" class="b" font-style="italic" textLength="22.9" lengthAdjust="spacingAndGlyphs">INPE</text>
<text x="10" y="74.2" font-size="4.6" class="b" textLength="71" lengthAdjust="spacingAndGlyphs" style="fill:#fff">UNIDADE DE PESQUISA DO MCTI</text>
</g>
<g transform="translate(947.8 710.2)">
<g transform="scale(0.08467)">
<path d="M100 420C110 520 180 640 290 715C400 790 560 805 690 740C840 665 930 500 935 310L975 305L850 180L710 305L755 310C750 440 690 560 590 625C480 695 330 700 230 630C160 580 115 500 100 420Z" fill="#0a78be"/>
<path d="M105 470C85 300 230 110 390 110C560 110 615 240 612 350L660 350L515 470L395 350L445 350C450 285 390 245 320 245C215 245 125 360 110 490" fill="none" stroke="#0a78be" stroke-width="13" stroke-linejoin="miter"/>
<circle cx="515" cy="568" r="90" fill="#f39208"/>
<rect x="88" y="815" width="892" height="70" fill="#1482c8"/>
</g>
<text x="13.1" y="43.2" font-size="11" class="b" font-style="italic" textLength="22.9" lengthAdjust="spacingAndGlyphs">INPE</text>
<text x="10" y="74.2" font-size="4.6" class="b" textLength="71" lengthAdjust="spacingAndGlyphs" style="fill:#fff">UNIDADE DE PESQUISA DO MCTI</text>
</g>
<g transform="translate(380 1584.3)">
<g transform="scale(0.08467)">
<path d="M100 420C110 520 180 640 290 715C400 790 560 805 690 740C840 665 930 500 935 310L975 305L850 180L710 305L755 310C750 440 690 560 590 625C480 695 330 700 230 630C160 580 115 500 100 420Z" fill="#0a78be"/>
<path d="M105 470C85 300 230 110 390 110C560 110 615 240 612 350L660 350L515 470L395 350L445 350C450 285 390 245 320 245C215 245 125 360 110 490" fill="none" stroke="#0a78be" stroke-width="13" stroke-linejoin="miter"/>
<circle cx="515" cy="568" r="90" fill="#f39208"/>
<rect x="88" y="815" width="892" height="70" fill="#1482c8"/>
</g>
<text x="13.1" y="43.2" font-size="11" class="b" font-style="italic" textLength="22.9" lengthAdjust="spacingAndGlyphs">INPE</text>
<text x="10" y="74.2" font-size="4.6" class="b" textLength="71" lengthAdjust="spacingAndGlyphs" style="fill:#fff">UNIDADE DE PESQUISA DO MCTI</text>
</g>
<g transform="translate(964.3 1586.1)">
<g transform="scale(0.08467)">
<path d="M100 420C110 520 180 640 290 715C400 790 560 805 690 740C840 665 930 500 935 310L975 305L850 180L710 305L755 310C750 440 690 560 590 625C480 695 330 700 230 630C160 580 115 500 100 420Z" fill="#0a78be"/>
<path d="M105 470C85 300 230 110 390 110C560 110 615 240 612 350L660 350L515 470L395 350L445 350C450 285 390 245 320 245C215 245 125 360 110 490" fill="none" stroke="#0a78be" stroke-width="13" stroke-linejoin="miter"/>
<circle cx="515" cy="568" r="90" fill="#f39208"/>
<rect x="88" y="815" width="892" height="70" fill="#1482c8"/>
</g>
<text x="13.1" y="43.2" font-size="11" class="b" font-style="italic" textLength="22.9" lengthAdjust="spacingAndGlyphs">INPE</text>
<text x="10" y="74.2" font-size="4.6" class="b" textLength="71" lengthAdjust="spacingAndGlyphs" style="fill:#fff">UNIDADE DE PESQUISA DO MCTI</text>
</g>
</svg></body></html>
